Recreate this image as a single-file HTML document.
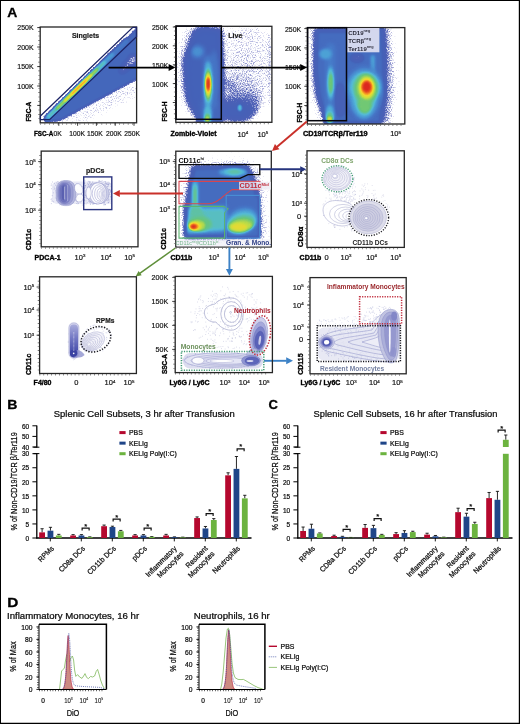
<!DOCTYPE html>
<html lang="en"><head><meta charset="utf-8"><title>Figure</title>
<style>
html,body{margin:0;padding:0;background:#fff;}
body{width:520px;height:724px;overflow:hidden;font-family:"Liberation Sans",sans-serif;}
svg{display:block;font-family:"Liberation Sans",sans-serif;}
</style></head><body>
<svg width="520" height="724" viewBox="0 0 520 724">
<defs>
<filter id="jet" x="0" y="0" width="1" height="1" color-interpolation-filters="sRGB">
<feGaussianBlur in="SourceGraphic" stdDeviation="0.5" result="h"/>
<feTurbulence type="fractalNoise" baseFrequency="0.8" numOctaves="4" seed="7" result="t"/>
<feColorMatrix in="t" type="matrix" values="2.2 0 0 0 -0.6  2.2 0 0 0 -0.6  2.2 0 0 0 -0.6  0 0 0 0 1" result="n"/>
<feComposite in="h" in2="n" operator="arithmetic" k1="0" k2="5" k3="-0.6" k4="0" result="d"/>
<feColorMatrix in="d" type="matrix" values="0 0 0 0 1  0 0 0 0 1  0 0 0 0 1  1.7 0 0 0 0" result="m"/>
<feComponentTransfer in="h" result="c"><feFuncR type="table" tableValues="0.439 0.424 0.408 0.392 0.376 0.361 0.349 0.337 0.325 0.314 0.302 0.290 0.287 0.284 0.281 0.278 0.275 0.273 0.270 0.267 0.269 0.271 0.273 0.275 0.280 0.285 0.290 0.301 0.313 0.324 0.338 0.356 0.373 0.390 0.408 0.483 0.558 0.634 0.709 0.784 0.838 0.892 0.946 0.969 0.962 0.956 0.949 0.927 0.906 0.884 0.863"/><feFuncG type="table" tableValues="0.424 0.419 0.414 0.409 0.405 0.400 0.396 0.392 0.388 0.384 0.380 0.376 0.377 0.378 0.379 0.380 0.381 0.382 0.383 0.384 0.406 0.427 0.449 0.471 0.510 0.549 0.588 0.631 0.673 0.716 0.742 0.750 0.759 0.768 0.776 0.795 0.814 0.833 0.852 0.871 0.864 0.857 0.850 0.800 0.706 0.612 0.518 0.427 0.337 0.247 0.157"/><feFuncB type="table" tableValues="0.745 0.742 0.739 0.736 0.733 0.729 0.727 0.724 0.722 0.719 0.716 0.714 0.715 0.716 0.717 0.718 0.719 0.720 0.721 0.722 0.737 0.753 0.769 0.784 0.800 0.816 0.831 0.836 0.840 0.845 0.806 0.724 0.642 0.560 0.478 0.433 0.387 0.342 0.296 0.251 0.229 0.206 0.184 0.167 0.156 0.145 0.133 0.131 0.129 0.127 0.125"/></feComponentTransfer>
<feComposite in="c" in2="m" operator="in" result="o"/>
<feGaussianBlur in="o" stdDeviation="0.55"/>
</filter>
<filter id="jet2" x="0" y="0" width="1" height="1" color-interpolation-filters="sRGB">
<feGaussianBlur in="SourceGraphic" stdDeviation="0.5" result="h"/>
<feTurbulence type="fractalNoise" baseFrequency="0.8" numOctaves="4" seed="11" result="t"/>
<feColorMatrix in="t" type="matrix" values="2.2 0 0 0 -0.6  2.2 0 0 0 -0.6  2.2 0 0 0 -0.6  0 0 0 0 1" result="n"/>
<feComposite in="h" in2="n" operator="arithmetic" k1="0" k2="5" k3="-0.6" k4="0" result="d"/>
<feColorMatrix in="d" type="matrix" values="0 0 0 0 1  0 0 0 0 1  0 0 0 0 1  1.7 0 0 0 0" result="m"/>
<feComponentTransfer in="h" result="c"><feFuncR type="table" tableValues="0.439 0.424 0.408 0.392 0.376 0.361 0.349 0.337 0.325 0.314 0.302 0.290 0.287 0.284 0.281 0.278 0.275 0.273 0.270 0.267 0.269 0.271 0.273 0.275 0.280 0.285 0.290 0.301 0.313 0.324 0.338 0.356 0.373 0.390 0.408 0.483 0.558 0.634 0.709 0.784 0.838 0.892 0.946 0.969 0.962 0.956 0.949 0.927 0.906 0.884 0.863"/><feFuncG type="table" tableValues="0.424 0.419 0.414 0.409 0.405 0.400 0.396 0.392 0.388 0.384 0.380 0.376 0.377 0.378 0.379 0.380 0.381 0.382 0.383 0.384 0.406 0.427 0.449 0.471 0.510 0.549 0.588 0.631 0.673 0.716 0.742 0.750 0.759 0.768 0.776 0.795 0.814 0.833 0.852 0.871 0.864 0.857 0.850 0.800 0.706 0.612 0.518 0.427 0.337 0.247 0.157"/><feFuncB type="table" tableValues="0.745 0.742 0.739 0.736 0.733 0.729 0.727 0.724 0.722 0.719 0.716 0.714 0.715 0.716 0.717 0.718 0.719 0.720 0.721 0.722 0.737 0.753 0.769 0.784 0.800 0.816 0.831 0.836 0.840 0.845 0.806 0.724 0.642 0.560 0.478 0.433 0.387 0.342 0.296 0.251 0.229 0.206 0.184 0.167 0.156 0.145 0.133 0.131 0.129 0.127 0.125"/></feComponentTransfer>
<feComposite in="c" in2="m" operator="in" result="o"/>
<feGaussianBlur in="o" stdDeviation="0.55"/>
</filter>
<filter id="soft" x="-0.1" y="-0.1" width="1.2" height="1.2" color-interpolation-filters="sRGB"><feGaussianBlur stdDeviation="0.35"/></filter>
<filter id="soft2" x="-0.1" y="-0.1" width="1.2" height="1.2" color-interpolation-filters="sRGB"><feGaussianBlur stdDeviation="0.8"/></filter>
<filter id="b1" x="0" y="0" width="520" height="724" filterUnits="userSpaceOnUse" color-interpolation-filters="sRGB"><feGaussianBlur stdDeviation="1"/></filter>
<filter id="b1_5" x="0" y="0" width="520" height="724" filterUnits="userSpaceOnUse" color-interpolation-filters="sRGB"><feGaussianBlur stdDeviation="1.5"/></filter>
<filter id="b2" x="0" y="0" width="520" height="724" filterUnits="userSpaceOnUse" color-interpolation-filters="sRGB"><feGaussianBlur stdDeviation="2"/></filter>
<filter id="b3" x="0" y="0" width="520" height="724" filterUnits="userSpaceOnUse" color-interpolation-filters="sRGB"><feGaussianBlur stdDeviation="3"/></filter>
<filter id="b4" x="0" y="0" width="520" height="724" filterUnits="userSpaceOnUse" color-interpolation-filters="sRGB"><feGaussianBlur stdDeviation="4"/></filter>
<filter id="b6" x="0" y="0" width="520" height="724" filterUnits="userSpaceOnUse" color-interpolation-filters="sRGB"><feGaussianBlur stdDeviation="6"/></filter>
</defs>
<rect x="0" y="0" width="520" height="724" fill="#fff"/>
<text transform="translate(7.20 16.90) scale(1.04 1)" font-size="13.4" font-weight="bold" text-anchor="start" fill="#000" stroke="#000" stroke-width="0.3">A</text>
<clipPath id="c1"><rect x="40.20" y="27.00" width="96.40" height="95.80"/></clipPath>
<g clip-path="url(#c1)"><g filter="url(#jet)">
<rect x="34.20" y="21.00" width="108.40" height="107.80" fill="#000"/>
<polygon points="56.00,123.00 137.00,80.00 137.00,96.00 84.00,123.00" fill="#0d0d0d" opacity="1" filter="url(#b2)"/>
<polygon points="45.00,117.64 139.00,25.99 139.00,78.00 60.00,120.50 45.00,122.50" fill="#666666" opacity="1" filter="url(#b1)"/>
<ellipse cx="128.00" cy="64.50" rx="11.00" ry="3.40" fill="#2b2b2b" opacity="1" transform="rotate(-47 128.00 64.50)" filter="url(#b1_5)"/>
<ellipse cx="133.00" cy="60.00" rx="4.00" ry="5.00" fill="#212121" opacity="1" filter="url(#b1_5)"/>
<g filter="url(#b1)"><line x1="47.30" y1="118.00" x2="126.00" y2="41.27" stroke="#757575" stroke-width="5.4" stroke-linecap="round" opacity="1"/></g>
<g filter="url(#b1)"><line x1="47.30" y1="118.00" x2="112.00" y2="54.92" stroke="#878787" stroke-width="4.4" stroke-linecap="round" opacity="1"/></g>
<g filter="url(#b1)"><line x1="49.00" y1="116.34" x2="104.00" y2="62.72" stroke="#a1a1a1" stroke-width="3.4" stroke-linecap="round" opacity="1"/></g>
<g filter="url(#b1)"><line x1="57.00" y1="108.54" x2="97.00" y2="69.54" stroke="#c2c2c2" stroke-width="2.7" stroke-linecap="round" opacity="1"/></g>
<g filter="url(#b1)"><line x1="65.00" y1="100.74" x2="91.00" y2="75.39" stroke="#dbdbdb" stroke-width="2.2" stroke-linecap="round" opacity="1"/></g>
<g filter="url(#b1)"><line x1="72.00" y1="93.92" x2="86.00" y2="80.27" stroke="#f0f0f0" stroke-width="1.7" stroke-linecap="round" opacity="1"/></g>
</g></g>
<rect x="40.20" y="27.00" width="96.40" height="95.80" fill="none" stroke="#262626" stroke-width="1.3"/>
<polygon points="40.4,116.0 132.8,27.3 136.5,27.3 136.5,36.6 49.6,119.6 40.4,119.6" fill="none" stroke="#1c2466" stroke-width="1.3" stroke-linejoin="miter"/>
<line x1="39.05" y1="27.00" x2="39.05" y2="122.80" stroke="#444" stroke-width="1.5" stroke-dasharray="0.6 3.755"/>
<line x1="40.20" y1="123.95" x2="136.60" y2="123.95" stroke="#444" stroke-width="1.5" stroke-dasharray="0.6 3.782"/>
<line x1="37.20" y1="27.60" x2="40.20" y2="27.60" stroke="#111" stroke-width="0.8"/>
<line x1="37.20" y1="47.00" x2="40.20" y2="47.00" stroke="#111" stroke-width="0.8"/>
<line x1="37.20" y1="66.60" x2="40.20" y2="66.60" stroke="#111" stroke-width="0.8"/>
<line x1="37.20" y1="86.00" x2="40.20" y2="86.00" stroke="#111" stroke-width="0.8"/>
<line x1="37.20" y1="105.40" x2="40.20" y2="105.40" stroke="#111" stroke-width="0.8"/>
<line x1="58.80" y1="122.80" x2="58.80" y2="125.80" stroke="#111" stroke-width="0.8"/>
<line x1="77.60" y1="122.80" x2="77.60" y2="125.80" stroke="#111" stroke-width="0.8"/>
<line x1="96.40" y1="122.80" x2="96.40" y2="125.80" stroke="#111" stroke-width="0.8"/>
<line x1="115.20" y1="122.80" x2="115.20" y2="125.80" stroke="#111" stroke-width="0.8"/>
<line x1="134.00" y1="122.80" x2="134.00" y2="125.80" stroke="#111" stroke-width="0.8"/>
<text transform="translate(85.50 38.20)" font-size="7" font-weight="bold" text-anchor="middle" fill="#1c1c1c" stroke="#1c1c1c" stroke-width="0.2">Singlets</text>
<text transform="translate(33.60 30.30) scale(0.93 1)" font-size="7.5" font-weight="normal" text-anchor="end" fill="#161616"  stroke="#161616" stroke-width="0.2">250K</text>
<text transform="translate(33.60 49.70) scale(0.93 1)" font-size="7.5" font-weight="normal" text-anchor="end" fill="#161616"  stroke="#161616" stroke-width="0.2">200K</text>
<text transform="translate(33.60 69.30) scale(0.93 1)" font-size="7.5" font-weight="normal" text-anchor="end" fill="#161616"  stroke="#161616" stroke-width="0.2">150K</text>
<text transform="translate(33.60 88.70) scale(0.93 1)" font-size="7.5" font-weight="normal" text-anchor="end" fill="#161616"  stroke="#161616" stroke-width="0.2">100K</text>
<text transform="translate(31.10 121.60) rotate(-90) scale(0.93 1)" font-size="7" font-weight="bold" text-anchor="start" fill="#000"  stroke="#000" stroke-width="0.34">FSC-A</text>
<text transform="translate(34.00 135.80) scale(0.9 1)" font-size="7" font-weight="bold" text-anchor="start" fill="#000"  stroke="#000" stroke-width="0.34">FSC-A</text>
<text transform="translate(53.40 135.80) scale(0.9 1)" font-size="7.5" font-weight="normal" text-anchor="start" fill="#161616"  stroke="#161616" stroke-width="0.2">0K</text>
<text transform="translate(69.30 135.80) scale(0.9 1)" font-size="7.5" font-weight="normal" text-anchor="start" fill="#161616"  stroke="#161616" stroke-width="0.2">100K</text>
<text transform="translate(86.90 135.80) scale(0.9 1)" font-size="7.5" font-weight="normal" text-anchor="start" fill="#161616"  stroke="#161616" stroke-width="0.2">150K</text>
<text transform="translate(106.00 135.80) scale(0.9 1)" font-size="7.5" font-weight="normal" text-anchor="start" fill="#161616"  stroke="#161616" stroke-width="0.2">200K</text>
<text transform="translate(124.30 135.80) scale(0.9 1)" font-size="7.5" font-weight="normal" text-anchor="start" fill="#161616"  stroke="#161616" stroke-width="0.2">250K</text>
<clipPath id="c2"><rect x="175.80" y="26.30" width="96.10" height="96.00"/></clipPath>
<g clip-path="url(#c2)"><g filter="url(#jet)">
<rect x="169.80" y="20.30" width="108.10" height="108.00" fill="#000"/>
<ellipse cx="247.00" cy="66.00" rx="26.00" ry="44.00" fill="#0f0f0f" opacity="1" filter="url(#b4)"/>
<ellipse cx="244.00" cy="80.00" rx="20.00" ry="30.00" fill="#131313" opacity="1" filter="url(#b4)"/>
<ellipse cx="240.00" cy="96.00" rx="20.00" ry="23.00" fill="#1a1a1a" opacity="1" transform="rotate(-35 240.00 96.00)" filter="url(#b3)"/>
<ellipse cx="240.00" cy="106.00" rx="20.00" ry="14.00" fill="#2b2b2b" opacity="1" transform="rotate(-15 240.00 106.00)" filter="url(#b3)"/>
<ellipse cx="237.00" cy="110.00" rx="18.00" ry="10.00" fill="#3d3d3d" opacity="1" filter="url(#b3)"/>
<ellipse cx="236.00" cy="112.00" rx="13.00" ry="7.00" fill="#525252" opacity="1" filter="url(#b3)"/>
<ellipse cx="231.00" cy="86.00" rx="3.00" ry="9.00" fill="#292929" opacity="1" transform="rotate(-40 231.00 86.00)" filter="url(#b2)"/>
<ellipse cx="239.80" cy="107.80" rx="2.60" ry="3.80" fill="#999999" opacity="1" filter="url(#b1)"/>
<g filter="url(#b1)"><line x1="269.40" y1="34.00" x2="269.40" y2="104.00" stroke="#2e2e2e" stroke-width="1.2" stroke-linecap="round" opacity="1"/></g>
<ellipse cx="199.00" cy="70.00" rx="19.00" ry="46.00" fill="#212121" opacity="1" filter="url(#b4)"/>
<ellipse cx="205.00" cy="72.00" rx="15.00" ry="42.00" fill="#666666" opacity="1" filter="url(#b3)"/>
<polygon points="196.00,30.00 222.00,28.00 222.00,123.00 200.00,123.00 188.00,100.00 185.00,60.00" fill="#616161" opacity="1" filter="url(#b3)"/>
<polygon points="200.00,100.00 222.00,100.00 222.00,123.00 198.00,123.00" fill="#666666" opacity="1" filter="url(#b2)"/>
<ellipse cx="197.60" cy="51.60" rx="6.80" ry="6.40" fill="#828282" opacity="1" filter="url(#b2)"/>
<ellipse cx="214.00" cy="80.00" rx="5.00" ry="30.00" fill="#737373" opacity="1" filter="url(#b2)"/>
<g filter="url(#b2)"><line x1="208.00" y1="60.00" x2="208.00" y2="121.00" stroke="#787878" stroke-width="9" stroke-linecap="round" opacity="1"/></g>
<g filter="url(#b1_5)"><line x1="208.00" y1="64.00" x2="208.00" y2="121.00" stroke="#8a8a8a" stroke-width="5" stroke-linecap="round" opacity="1"/></g>
<ellipse cx="208.20" cy="85.00" rx="4.60" ry="22.00" fill="#919191" opacity="1" filter="url(#b1_5)"/>
<ellipse cx="208.20" cy="85.00" rx="3.60" ry="17.00" fill="#a8a8a8" opacity="1" filter="url(#b1)"/>
<ellipse cx="208.20" cy="85.00" rx="2.90" ry="13.50" fill="#c2c2c2" opacity="1" filter="url(#b1)"/>
<ellipse cx="208.20" cy="84.60" rx="2.30" ry="10.50" fill="#dbdbdb" opacity="1" filter="url(#b1)"/>
<ellipse cx="208.20" cy="84.20" rx="1.80" ry="7.60" fill="#f2f2f2" opacity="1" filter="url(#b1)"/>
<ellipse cx="208.20" cy="84.00" rx="1.40" ry="5.40" fill="#ffffff" opacity="1" filter="url(#b1)"/>
<ellipse cx="207.60" cy="114.00" rx="3.80" ry="8.00" fill="#969696" opacity="1" filter="url(#b1_5)"/>
<ellipse cx="207.40" cy="118.00" rx="2.90" ry="4.20" fill="#b0b0b0" opacity="1" filter="url(#b1)"/>
<ellipse cx="207.20" cy="119.60" rx="2.00" ry="2.40" fill="#cccccc" opacity="1" filter="url(#b1)"/>
</g></g>
<rect x="175.80" y="26.30" width="96.10" height="96.00" fill="none" stroke="#262626" stroke-width="1.3"/>
<rect x="176.1" y="26.0" width="45.2" height="93.3" fill="none" stroke="#05050c" stroke-width="1.5"/>
<line x1="174.65" y1="26.30" x2="174.65" y2="122.30" stroke="#444" stroke-width="1.5" stroke-dasharray="0.6 3.764"/>
<line x1="175.80" y1="123.45" x2="271.90" y2="123.45" stroke="#444" stroke-width="1.5" stroke-dasharray="0.6 3.404"/>
<line x1="172.80" y1="27.00" x2="175.80" y2="27.00" stroke="#111" stroke-width="0.8"/>
<line x1="172.80" y1="45.80" x2="175.80" y2="45.80" stroke="#111" stroke-width="0.8"/>
<line x1="172.80" y1="64.80" x2="175.80" y2="64.80" stroke="#111" stroke-width="0.8"/>
<line x1="172.80" y1="83.60" x2="175.80" y2="83.60" stroke="#111" stroke-width="0.8"/>
<line x1="172.80" y1="102.50" x2="175.80" y2="102.50" stroke="#111" stroke-width="0.8"/>
<text transform="translate(228.20 38.20)" font-size="7.1" font-weight="bold" text-anchor="start" fill="#1c1c1c" stroke="#1c1c1c" stroke-width="0.2">Live</text>
<text transform="translate(168.20 30.20) scale(0.93 1)" font-size="7.5" font-weight="normal" text-anchor="end" fill="#161616"  stroke="#161616" stroke-width="0.2">250K</text>
<text transform="translate(168.20 49.00) scale(0.93 1)" font-size="7.5" font-weight="normal" text-anchor="end" fill="#161616"  stroke="#161616" stroke-width="0.2">200K</text>
<text transform="translate(168.20 68.00) scale(0.93 1)" font-size="7.5" font-weight="normal" text-anchor="end" fill="#161616"  stroke="#161616" stroke-width="0.2">150K</text>
<text transform="translate(168.20 86.80) scale(0.93 1)" font-size="7.5" font-weight="normal" text-anchor="end" fill="#161616"  stroke="#161616" stroke-width="0.2">100K</text>
<text transform="translate(167.00 121.40) rotate(-90) scale(0.93 1)" font-size="7" font-weight="bold" text-anchor="start" fill="#000"  stroke="#000" stroke-width="0.34">FSC-H</text>
<text transform="translate(170.40 136.00)" font-size="7" font-weight="bold" text-anchor="start" fill="#000"  stroke="#000" stroke-width="0.34">Zombie-Violet</text>
<text transform="translate(237.40 136.60)" font-size="7.5" font-weight="normal" text-anchor="start" fill="#161616"  stroke="#161616" stroke-width="0.2">10<tspan font-size="4.4" dy="-2.6">4</tspan></text>
<text transform="translate(257.40 136.60)" font-size="7.5" font-weight="normal" text-anchor="start" fill="#161616"  stroke="#161616" stroke-width="0.2">10<tspan font-size="4.4" dy="-2.6">5</tspan></text>
<clipPath id="c3"><rect x="307.30" y="27.60" width="97.50" height="96.40"/></clipPath>
<g clip-path="url(#c3)"><g filter="url(#jet)">
<rect x="301.30" y="21.60" width="109.50" height="108.40" fill="#000"/>
<ellipse cx="360.00" cy="80.00" rx="40.00" ry="52.00" fill="#060606" opacity="1" filter="url(#b4)"/>
<polygon points="311.00,26.00 346.00,26.00 390.00,26.00 392.00,58.00 393.00,84.00 390.00,124.00 322.00,124.00 312.00,90.00" fill="#242424" opacity="1" filter="url(#b3)"/>
<polygon points="316.00,30.00 346.00,30.00 383.00,28.00 385.00,62.00 385.00,96.00 381.00,124.00 327.00,124.00 318.00,96.00 315.00,70.00" fill="#6b6b6b" opacity="1" filter="url(#b2)"/>
<ellipse cx="340.00" cy="100.00" rx="6.00" ry="16.00" fill="#4c4c4c" opacity="1" filter="url(#b2)"/>
<ellipse cx="357.00" cy="58.00" rx="6.00" ry="3.40" fill="#333333" opacity="1" filter="url(#b1_5)"/>
<g filter="url(#b2)"><line x1="330.40" y1="48.00" x2="330.40" y2="121.00" stroke="#787878" stroke-width="9" stroke-linecap="round" opacity="1"/></g>
<ellipse cx="325.40" cy="54.00" rx="6.40" ry="5.60" fill="#8a8a8a" opacity="1" filter="url(#b1_5)"/>
<ellipse cx="330.60" cy="83.00" rx="3.60" ry="17.00" fill="#8f8f8f" opacity="1" filter="url(#b1_5)"/>
<ellipse cx="330.60" cy="83.00" rx="2.80" ry="13.50" fill="#9e9e9e" opacity="1" filter="url(#b1)"/>
<ellipse cx="330.80" cy="83.00" rx="2.00" ry="9.50" fill="#b0b0b0" opacity="1" filter="url(#b1)"/>
<ellipse cx="329.80" cy="114.00" rx="4.20" ry="9.00" fill="#919191" opacity="1" filter="url(#b1_5)"/>
<ellipse cx="329.80" cy="117.00" rx="3.40" ry="5.00" fill="#a8a8a8" opacity="1" filter="url(#b1)"/>
<ellipse cx="329.60" cy="119.20" rx="2.60" ry="2.80" fill="#cccccc" opacity="1" filter="url(#b1)"/>
<g filter="url(#b1_5)"><line x1="372.80" y1="57.00" x2="372.80" y2="78.00" stroke="#8c8c8c" stroke-width="4.6" stroke-linecap="round" opacity="1"/></g>
<ellipse cx="364.50" cy="91.00" rx="19.00" ry="25.00" fill="#787878" opacity="1" filter="url(#b2)"/>
<ellipse cx="364.50" cy="87.00" rx="16.50" ry="17.00" fill="#8f8f8f" opacity="1" filter="url(#b2)"/>
<ellipse cx="364.00" cy="100.00" rx="12.50" ry="19.00" fill="#8f8f8f" opacity="1" filter="url(#b2)"/>
<ellipse cx="365.50" cy="87.50" rx="14.00" ry="14.50" fill="#9e9e9e" opacity="1" filter="url(#b1_5)"/>
<ellipse cx="365.00" cy="97.00" rx="10.50" ry="14.00" fill="#9e9e9e" opacity="1" filter="url(#b1_5)"/>
<ellipse cx="366.00" cy="88.50" rx="11.40" ry="15.00" fill="#b2b2b2" opacity="1" filter="url(#b1_5)"/>
<ellipse cx="364.60" cy="105.00" rx="7.00" ry="9.00" fill="#b0b0b0" opacity="1" filter="url(#b1_5)"/>
<ellipse cx="366.60" cy="88.00" rx="8.40" ry="11.40" fill="#c9c9c9" opacity="1" filter="url(#b1)"/>
<ellipse cx="366.80" cy="87.60" rx="6.60" ry="8.80" fill="#dedede" opacity="1" filter="url(#b1)"/>
<ellipse cx="366.80" cy="87.20" rx="5.20" ry="6.80" fill="#f2f2f2" opacity="1" filter="url(#b1)"/>
<ellipse cx="366.70" cy="86.80" rx="4.00" ry="5.00" fill="#ffffff" opacity="1" filter="url(#b1)"/>
</g></g>
<rect x="307.30" y="27.60" width="97.50" height="96.40" fill="none" stroke="#262626" stroke-width="1.3"/>
<rect x="347.2" y="28.0" width="32.2" height="24.3" fill="#dfe1f2" opacity="0.92"/>
<rect x="307.7" y="27.7" width="38.8" height="93.0" fill="none" stroke="#05050c" stroke-width="1.5"/>
<line x1="306.15" y1="27.60" x2="306.15" y2="124.00" stroke="#444" stroke-width="1.5" stroke-dasharray="0.6 3.782"/>
<line x1="307.30" y1="125.15" x2="404.80" y2="125.15" stroke="#444" stroke-width="1.5" stroke-dasharray="0.6 3.462"/>
<line x1="304.30" y1="28.60" x2="307.30" y2="28.60" stroke="#111" stroke-width="0.8"/>
<line x1="304.30" y1="47.90" x2="307.30" y2="47.90" stroke="#111" stroke-width="0.8"/>
<line x1="304.30" y1="67.10" x2="307.30" y2="67.10" stroke="#111" stroke-width="0.8"/>
<line x1="304.30" y1="86.30" x2="307.30" y2="86.30" stroke="#111" stroke-width="0.8"/>
<line x1="304.30" y1="105.50" x2="307.30" y2="105.50" stroke="#111" stroke-width="0.8"/>
<text transform="translate(348.20 34.60)" font-size="6" font-weight="bold" text-anchor="start" fill="#2b2b3a" >CD19<tspan font-size="3.8" dy="-2.2">neg</tspan></text>
<text transform="translate(348.20 42.60)" font-size="6" font-weight="bold" text-anchor="start" fill="#2b2b3a" >TCRβ<tspan font-size="3.8" dy="-2.2">neg</tspan></text>
<text transform="translate(348.20 50.60)" font-size="6" font-weight="bold" text-anchor="start" fill="#2b2b3a" >Ter119<tspan font-size="3.8" dy="-2.2">neg</tspan></text>
<text transform="translate(301.20 31.60) scale(0.93 1)" font-size="7.5" font-weight="normal" text-anchor="end" fill="#161616"  stroke="#161616" stroke-width="0.2">250K</text>
<text transform="translate(301.20 50.90) scale(0.93 1)" font-size="7.5" font-weight="normal" text-anchor="end" fill="#161616"  stroke="#161616" stroke-width="0.2">200K</text>
<text transform="translate(301.20 70.10) scale(0.93 1)" font-size="7.5" font-weight="normal" text-anchor="end" fill="#161616"  stroke="#161616" stroke-width="0.2">150K</text>
<text transform="translate(301.20 89.30) scale(0.93 1)" font-size="7.5" font-weight="normal" text-anchor="end" fill="#161616"  stroke="#161616" stroke-width="0.2">100K</text>
<text transform="translate(301.60 122.60) rotate(-90) scale(0.93 1)" font-size="7" font-weight="bold" text-anchor="start" fill="#000"  stroke="#000" stroke-width="0.34">FSC-H</text>
<text transform="translate(302.90 135.60) scale(1.045 1)" font-size="7" font-weight="bold" text-anchor="start" fill="#000"  stroke="#000" stroke-width="0.34">CD19/TCRβ/Ter119</text>
<text transform="translate(390.20 136.20)" font-size="7.5" font-weight="normal" text-anchor="start" fill="#161616"  stroke="#161616" stroke-width="0.2">10<tspan font-size="4.4" dy="-2.6">5</tspan></text>
<line x1="108.60" y1="67.60" x2="169.10" y2="67.60" stroke="#000" stroke-width="1.9"/>
<polygon points="175.40,67.60 168.60,71.10 168.60,64.10" fill="#000"/>
<line x1="221.60" y1="67.60" x2="300.70" y2="67.60" stroke="#000" stroke-width="1.9"/>
<polygon points="307.00,67.60 300.20,71.10 300.20,64.10" fill="#000"/>
<g filter="url(#soft)">
<rect x="52" y="181.5" width="60" height="22.5" rx="5" fill="#d7d8ee" opacity="0.55"/>
<path d="M65.8 193.8h.01M73.9 195.3h.01M89.8 182.1h.01M51.8 201.0h.01M67.1 186.2h.01M112.7 192.0h.01M102.9 192.2h.01M90.6 184.2h.01M90.4 201.8h.01M83.4 198.7h.01M92.6 182.1h.01M98.0 195.0h.01M69.7 181.3h.01M104.7 192.1h.01M95.6 202.0h.01M95.3 203.1h.01M75.5 200.1h.01M78.6 203.4h.01M105.5 182.9h.01M59.4 185.8h.01M110.9 191.2h.01M89.9 187.9h.01M82.4 190.0h.01M72.8 194.8h.01M87.2 202.7h.01M93.3 203.3h.01M104.1 204.8h.01M92.6 184.5h.01M104.4 204.1h.01M107.1 194.4h.01M95.3 185.7h.01M102.6 194.6h.01M68.7 182.1h.01M103.9 204.8h.01M56.5 200.1h.01M76.4 184.2h.01M69.2 199.3h.01M105.1 181.6h.01M89.1 181.6h.01M95.5 188.6h.01M105.6 204.5h.01M82.3 205.0h.01M70.2 182.4h.01M88.2 181.3h.01M63.2 190.5h.01M88.8 184.3h.01M53.6 201.8h.01M70.5 204.0h.01M106.6 189.8h.01M79.5 193.2h.01M90.9 195.1h.01M85.7 195.7h.01M109.3 192.9h.01M77.7 198.1h.01M65.7 187.9h.01M111.6 193.3h.01M85.0 180.8h.01M76.7 194.7h.01M52.2 195.6h.01M90.2 182.0h.01M89.9 191.9h.01M93.1 189.1h.01M94.8 198.6h.01M52.4 182.0h.01M92.9 204.1h.01M66.6 191.7h.01M87.7 188.3h.01M73.6 188.2h.01M73.9 195.1h.01M69.6 189.7h.01M98.9 181.2h.01M86.3 198.5h.01M70.2 186.0h.01M100.8 186.3h.01M62.6 191.2h.01M94.3 183.0h.01M71.0 188.7h.01M102.7 191.2h.01M104.0 184.6h.01M71.9 196.4h.01M105.9 191.6h.01M65.0 183.5h.01M83.8 185.2h.01M101.0 201.0h.01M62.4 187.3h.01M101.0 196.2h.01M101.0 189.0h.01M59.0 187.7h.01M100.2 187.1h.01M72.5 190.7h.01M77.0 190.5h.01M108.1 184.3h.01M51.3 203.6h.01M105.6 204.7h.01M77.9 203.8h.01M108.5 185.9h.01M97.2 201.0h.01M92.1 193.2h.01M68.9 188.9h.01M65.1 182.2h.01M87.5 187.5h.01M101.2 181.6h.01M107.0 197.5h.01M108.3 202.5h.01M106.8 194.6h.01M51.8 198.8h.01M61.7 187.8h.01M92.1 193.4h.01M76.7 203.5h.01M89.0 188.9h.01M66.7 201.6h.01M80.6 199.7h.01M72.8 185.3h.01M84.1 200.5h.01M61.6 199.9h.01M108.1 200.2h.01M102.1 180.7h.01M90.0 201.6h.01M54.1 187.1h.01M67.7 193.4h.01M77.2 192.1h.01M99.1 180.5h.01M54.4 183.6h.01M58.7 182.2h.01M111.4 201.4h.01M56.3 192.8h.01M70.6 188.2h.01M72.8 196.3h.01M87.4 189.3h.01M62.8 188.6h.01M58.7 194.1h.01M95.4 189.8h.01M56.0 184.9h.01M74.1 195.3h.01M99.5 189.8h.01M100.7 195.8h.01M77.8 189.6h.01M81.8 197.7h.01M77.1 197.5h.01M79.6 186.5h.01M84.2 197.5h.01M55.4 190.9h.01M77.4 202.1h.01M109.1 189.7h.01M106.7 199.9h.01M67.3 191.9h.01M58.6 200.4h.01M92.1 202.2h.01M100.1 196.9h.01M96.5 194.3h.01M57.4 194.9h.01M51.3 184.0h.01M99.0 181.6h.01M56.7 182.9h.01M105.6 184.9h.01M52.5 201.1h.01M58.5 201.2h.01M92.8 201.0h.01M110.0 194.7h.01M100.5 181.4h.01M98.6 193.0h.01M95.3 183.1h.01M97.4 203.4h.01M54.8 188.4h.01M86.0 200.8h.01M66.0 184.9h.01M66.5 195.6h.01M97.7 190.1h.01M73.8 190.2h.01M72.7 190.7h.01M56.2 192.8h.01M111.3 190.6h.01M97.3 184.4h.01M93.8 199.0h.01M92.8 193.2h.01M81.0 196.3h.01M106.6 184.2h.01M56.9 198.8h.01M107.8 193.2h.01M78.5 198.1h.01M62.5 187.1h.01M63.3 194.8h.01M70.5 186.2h.01M93.9 203.9h.01M69.3 197.8h.01M76.6 201.4h.01M87.2 187.0h.01M64.5 181.1h.01M80.7 189.9h.01M61.7 189.3h.01M71.0 199.5h.01M59.9 204.8h.01M80.7 195.2h.01M80.0 200.9h.01M101.9 194.1h.01M80.8 198.2h.01M104.1 190.3h.01M96.5 204.0h.01M80.0 186.1h.01M65.6 198.1h.01M92.9 204.0h.01M103.9 186.4h.01M62.8 186.8h.01M62.6 197.8h.01M104.2 202.5h.01M66.8 201.7h.01M70.4 190.9h.01M96.2 182.6h.01M56.7 200.9h.01M69.1 189.2h.01M87.0 197.0h.01M51.4 188.7h.01M78.0 192.4h.01M64.0 194.8h.01M110.2 190.1h.01M84.8 183.4h.01M68.0 196.8h.01M58.0 202.2h.01M107.3 182.9h.01M109.4 189.7h.01M98.9 199.1h.01M69.3 197.1h.01M91.6 200.2h.01M67.5 199.0h.01M110.6 197.0h.01M84.2 183.3h.01M81.6 189.1h.01M95.5 197.1h.01M86.1 185.0h.01M91.0 196.0h.01M62.1 202.3h.01M91.6 183.5h.01M108.8 184.0h.01M71.6 198.2h.01M88.0 194.1h.01M91.1 191.7h.01M70.4 184.8h.01M55.3 198.0h.01M97.8 193.8h.01M96.9 189.3h.01M67.5 189.9h.01M105.1 181.5h.01M82.3 186.6h.01M98.7 189.2h.01M71.6 190.4h.01M84.6 199.4h.01M72.9 201.2h.01M58.0 187.1h.01M57.2 183.3h.01M99.3 198.3h.01M62.5 185.1h.01M76.8 198.7h.01M101.6 198.8h.01M87.7 184.1h.01M75.7 185.2h.01M83.7 194.4h.01M63.5 186.6h.01M99.5 181.2h.01M100.8 202.3h.01M109.9 189.9h.01M85.3 194.8h.01M90.3 204.4h.01M93.6 187.8h.01M104.3 192.4h.01M88.3 198.3h.01M51.1 199.4h.01M92.0 192.6h.01M83.5 191.8h.01M63.0 193.5h.01M53.3 192.8h.01M91.0 191.4h.01M86.1 204.0h.01M106.3 183.8h.01M100.1 195.8h.01M54.1 189.3h.01M65.5 182.4h.01M84.4 203.3h.01M71.0 201.8h.01M94.1 183.8h.01M104.2 195.2h.01M108.5 198.0h.01M96.9 188.9h.01M101.0 203.3h.01M104.4 191.2h.01M97.9 192.4h.01M57.8 181.5h.01M55.8 185.4h.01M61.0 192.7h.01M94.4 193.7h.01M77.2 196.4h.01M69.9 191.9h.01M97.9 190.3h.01M62.2 202.5h.01M95.6 189.5h.01M74.0 193.5h.01M88.0 186.0h.01M51.2 185.6h.01M99.6 184.0h.01M79.5 185.3h.01M64.0 184.7h.01" stroke="#8a8ec6" stroke-width="0.8" stroke-linecap="round" fill="none" opacity="0.6"/>
<path d="M90.4 184.3h.01M94.7 185.4h.01M85.8 190.8h.01M108.8 199.6h.01M104.7 186.9h.01M98.5 188.1h.01M88.7 184.3h.01M89.8 202.4h.01M106.4 199.7h.01M105.6 186.3h.01M92.4 195.8h.01M103.8 200.8h.01M107.8 183.9h.01M100.4 196.8h.01M97.7 185.9h.01M96.8 184.0h.01M109.2 201.0h.01M98.8 188.6h.01M108.5 194.6h.01M107.8 200.7h.01M97.7 191.1h.01M100.2 191.5h.01M88.4 188.7h.01M105.9 183.0h.01M85.3 195.8h.01M91.6 193.8h.01M96.7 189.5h.01M110.9 186.3h.01M95.1 186.5h.01M101.1 188.1h.01M93.6 198.4h.01M92.7 194.3h.01M108.4 184.2h.01M85.7 187.0h.01M104.7 195.5h.01M90.4 189.3h.01M88.8 192.1h.01M85.2 197.3h.01M108.2 203.0h.01M103.8 203.1h.01M84.5 188.4h.01M110.1 199.1h.01M95.1 202.8h.01M100.8 200.0h.01M91.9 186.2h.01M96.0 185.0h.01M94.3 203.2h.01M92.9 182.2h.01M85.2 185.7h.01M105.2 190.0h.01M91.8 184.1h.01M110.5 191.3h.01M89.6 183.3h.01M85.5 185.7h.01M102.3 185.3h.01M85.1 192.8h.01M90.7 203.9h.01M87.3 193.6h.01M104.9 191.0h.01M110.7 192.5h.01M90.5 191.0h.01M85.0 191.3h.01M90.7 201.6h.01M106.4 193.0h.01M84.9 187.6h.01M90.5 186.6h.01M90.2 201.1h.01M87.8 183.1h.01M109.1 194.4h.01M110.7 190.9h.01M108.3 196.4h.01M105.4 198.4h.01M97.3 184.0h.01M89.7 201.2h.01M108.3 202.3h.01M93.1 196.5h.01M105.6 196.1h.01M106.0 193.6h.01M101.7 197.1h.01M91.2 202.3h.01M109.8 183.6h.01M110.2 203.2h.01M102.0 183.0h.01M108.3 184.8h.01M110.2 196.7h.01M85.6 185.7h.01M101.2 194.5h.01M104.2 202.4h.01M89.9 182.1h.01M108.9 182.3h.01M107.7 184.5h.01M105.9 199.2h.01M107.7 194.1h.01M107.7 186.4h.01M102.1 189.3h.01M108.1 199.0h.01M96.7 193.6h.01M84.7 182.8h.01M100.1 192.8h.01M107.3 195.4h.01M87.7 190.0h.01M104.7 193.5h.01M84.3 200.4h.01M106.3 183.9h.01M98.7 190.4h.01M105.3 188.8h.01M90.3 192.7h.01M110.1 184.1h.01M87.1 195.7h.01M107.9 193.3h.01M95.7 200.9h.01M105.0 183.5h.01M107.8 186.3h.01M92.2 200.4h.01M95.4 199.6h.01M88.5 201.2h.01M88.8 185.3h.01M97.3 189.4h.01M98.6 201.9h.01M103.2 182.1h.01" stroke="#7a7fc0" stroke-width="0.8" stroke-linecap="round" fill="none" opacity="0.55"/>
<rect x="56.2" y="180.6" width="19.4" height="25.0" rx="8" ry="9" fill="#b4b7de" stroke="#8a8ec6" stroke-width="0.5"/>
<rect x="57.6" y="181.8" width="15.6" height="22.6" rx="6.5" ry="8" fill="#9a9ed2" stroke="#8387c6" stroke-width="0.4"/>
<rect x="58.8" y="183.0" width="11.6" height="20.4" rx="5" ry="7" fill="#8084c6" stroke="#7074ba" stroke-width="0.4"/>
<rect x="60.2" y="184.4" width="7.6" height="17.6" rx="3.4" ry="6" fill="#6e73bc" stroke="#6267b2" stroke-width="0.4"/>
<rect x="61.8" y="185.6" width="3.6" height="14.6" rx="1.6" ry="5" fill="#5a60b0"/>
<line x1="64.7" y1="186.5" x2="64.7" y2="199.5" stroke="#e6e7f5" stroke-width="0.6"/>
<line x1="67.6" y1="185" x2="67.6" y2="201" stroke="#c8cae8" stroke-width="0.5"/>
<ellipse cx="78.60" cy="189.00" rx="4.00" ry="5.60" fill="#fff" fill-opacity="0.9" stroke="#8a8ec6" stroke-width="0.45" opacity="1" transform="rotate(-20 78.60 189.00)"/>
<ellipse cx="79.60" cy="198.00" rx="3.60" ry="4.20" fill="#fff" fill-opacity="0.9" stroke="#8a8ec6" stroke-width="0.45" opacity="1" transform="rotate(20 79.60 198.00)"/>
<ellipse cx="97.60" cy="193.40" rx="11.60" ry="10.60" fill="#c9cbe6" fill-opacity="0.9" stroke="#8a8ec6" stroke-width="0.4" opacity="1"/>
<ellipse cx="98.00" cy="193.40" rx="8.40" ry="10.60" fill="#fff" fill-opacity="0.95" stroke="#8a8ec6" stroke-width="0.45" opacity="1"/>
<ellipse cx="98.60" cy="193.60" rx="6.40" ry="8.80" fill="#fff" fill-opacity="1" stroke="#8a8ec6" stroke-width="0.45" opacity="1"/>
<ellipse cx="99.20" cy="193.80" rx="4.60" ry="7.20" fill="#fff" fill-opacity="1" stroke="#8a8ec6" stroke-width="0.45" opacity="1"/>
<ellipse cx="99.80" cy="194.00" rx="2.80" ry="5.40" fill="#fff" fill-opacity="1" stroke="#8a8ec6" stroke-width="0.45" opacity="1"/>
<ellipse cx="100.20" cy="194.20" rx="1.20" ry="3.40" fill="#fff" fill-opacity="1" stroke="#8a8ec6" stroke-width="0.4" opacity="1"/>
<ellipse cx="88.60" cy="193.00" rx="2.60" ry="6.00" fill="#fff" fill-opacity="0.9" stroke="#8a8ec6" stroke-width="0.4" opacity="1"/>
</g>
<rect x="41.20" y="151.10" width="96.80" height="95.70" fill="none" stroke="#262626" stroke-width="1.3"/>
<rect x="83.7" y="176.9" width="28.1" height="32.7" fill="none" stroke="#2b3580" stroke-width="1.4"/>
<line x1="40.05" y1="155.10" x2="40.05" y2="246.80" stroke="#444" stroke-width="1.5" stroke-dasharray="0.6 3.221"/>
<line x1="41.20" y1="247.95" x2="135.00" y2="247.95" stroke="#444" stroke-width="1.5" stroke-dasharray="0.6 3.308"/>
<text transform="translate(95.20 172.90)" font-size="7" font-weight="bold" text-anchor="middle" fill="#1c1c1c" stroke="#1c1c1c" stroke-width="0.2">pDCs</text>
<text transform="translate(25.00 164.50)" font-size="7.5" font-weight="normal" text-anchor="start" fill="#161616"  stroke="#161616" stroke-width="0.2">10<tspan font-size="4.4" dy="-2.6">5</tspan></text>
<line x1="38.20" y1="161.60" x2="41.20" y2="161.60" stroke="#111" stroke-width="0.8"/>
<text transform="translate(25.00 187.50)" font-size="7.5" font-weight="normal" text-anchor="start" fill="#161616"  stroke="#161616" stroke-width="0.2">10<tspan font-size="4.4" dy="-2.6">4</tspan></text>
<line x1="38.20" y1="184.60" x2="41.20" y2="184.60" stroke="#111" stroke-width="0.8"/>
<text transform="translate(25.00 213.10)" font-size="7.5" font-weight="normal" text-anchor="start" fill="#161616"  stroke="#161616" stroke-width="0.2">10<tspan font-size="4.4" dy="-2.6">3</tspan></text>
<line x1="38.20" y1="210.20" x2="41.20" y2="210.20" stroke="#111" stroke-width="0.8"/>
<text transform="translate(31.00 250.20) rotate(-90)" font-size="7" font-weight="bold" text-anchor="start" fill="#000"  stroke="#000" stroke-width="0.34">CD11c</text>
<text transform="translate(34.60 260.20)" font-size="7" font-weight="bold" text-anchor="start" fill="#000"  stroke="#000" stroke-width="0.34">PDCA-1</text>
<text transform="translate(74.60 259.80)" font-size="7.5" font-weight="normal" text-anchor="start" fill="#161616"  stroke="#161616" stroke-width="0.2">10<tspan font-size="4.4" dy="-2.6">3</tspan></text>
<text transform="translate(100.60 259.80)" font-size="7.5" font-weight="normal" text-anchor="start" fill="#161616"  stroke="#161616" stroke-width="0.2">10<tspan font-size="4.4" dy="-2.6">4</tspan></text>
<text transform="translate(124.20 259.80)" font-size="7.5" font-weight="normal" text-anchor="start" fill="#161616"  stroke="#161616" stroke-width="0.2">10<tspan font-size="4.4" dy="-2.6">5</tspan></text>
<clipPath id="c5"><rect x="175.80" y="151.20" width="95.50" height="95.80"/></clipPath>
<g clip-path="url(#c5)"><g filter="url(#jet2)">
<rect x="169.80" y="145.20" width="107.50" height="107.80" fill="#000"/>
<ellipse cx="224.00" cy="200.00" rx="46.00" ry="46.00" fill="#050505" opacity="1" filter="url(#b4)"/>
<polygon points="188.00,164.00 252.00,162.00 262.00,180.00 266.00,240.00 182.00,243.00 181.00,205.00 185.00,182.00" fill="#1a1a1a" opacity="1" filter="url(#b3)"/>
<polygon points="193.00,167.00 247.00,166.00 253.00,178.00 257.00,190.00 259.00,236.00 186.00,238.00 186.00,210.00 190.00,184.00" fill="#6b6b6b" opacity="1" filter="url(#b2)"/>
<polygon points="226.00,196.00 259.00,196.00 259.00,237.00 226.00,237.00" fill="#6b6b6b" opacity="1" filter="url(#b1_5)"/>
<g filter="url(#b1)"><line x1="225.60" y1="226.00" x2="225.60" y2="240.00" stroke="#383838" stroke-width="1.6" stroke-linecap="round" opacity="1"/></g>
<ellipse cx="233.00" cy="172.20" rx="14.50" ry="4.40" fill="#8a8a8a" opacity="1" filter="url(#b1_5)"/>
<ellipse cx="234.00" cy="172.00" rx="10.00" ry="3.20" fill="#999999" opacity="1" filter="url(#b1)"/>
<ellipse cx="234.50" cy="171.80" rx="6.00" ry="2.00" fill="#a3a3a3" opacity="1" filter="url(#b1)"/>
<g filter="url(#b1_5)"><line x1="195.00" y1="184.00" x2="195.00" y2="214.00" stroke="#8f8f8f" stroke-width="6.4" stroke-linecap="round" opacity="1"/></g>
<g filter="url(#b1)"><line x1="195.00" y1="187.00" x2="195.00" y2="212.00" stroke="#9e9e9e" stroke-width="4.4" stroke-linecap="round" opacity="1"/></g>
<g filter="url(#b1)"><line x1="195.00" y1="190.00" x2="195.00" y2="206.00" stroke="#ababab" stroke-width="2.6" stroke-linecap="round" opacity="1"/></g>
<polygon points="188.00,206.00 227.00,206.00 227.00,232.00 186.00,234.00" fill="#8c8c8c" opacity="1" filter="url(#b2)"/>
<polygon points="190.00,210.00 224.00,209.00 224.00,229.00 188.00,232.00" fill="#9c9c9c" opacity="1" filter="url(#b1_5)"/>
<polygon points="191.00,206.00 200.00,206.00 208.00,222.00 189.00,227.00" fill="#a3a3a3" opacity="1" filter="url(#b1_5)"/>
<ellipse cx="200.00" cy="224.00" rx="12.00" ry="7.40" fill="#ababab" opacity="1" filter="url(#b1_5)"/>
<ellipse cx="196.80" cy="225.40" rx="8.40" ry="5.40" fill="#c2c2c2" opacity="1" filter="url(#b1)"/>
<ellipse cx="195.00" cy="226.20" rx="5.60" ry="3.80" fill="#dbdbdb" opacity="1" filter="url(#b1)"/>
<ellipse cx="194.00" cy="226.50" rx="3.80" ry="2.70" fill="#f0f0f0" opacity="1" filter="url(#b1)"/>
<ellipse cx="193.50" cy="226.60" rx="2.60" ry="1.90" fill="#ffffff" opacity="1" filter="url(#b1)"/>
<ellipse cx="242.00" cy="221.00" rx="16.00" ry="12.00" fill="#8c8c8c" opacity="1" transform="rotate(-25 242.00 221.00)" filter="url(#b2)"/>
<ellipse cx="241.50" cy="223.40" rx="14.50" ry="9.40" fill="#a1a1a1" opacity="1" transform="rotate(-18 241.50 223.40)" filter="url(#b1_5)"/>
<ellipse cx="241.00" cy="225.00" rx="13.00" ry="7.20" fill="#b2b2b2" opacity="1" transform="rotate(-12 241.00 225.00)" filter="url(#b1)"/>
<ellipse cx="240.40" cy="226.00" rx="11.50" ry="5.40" fill="#c4c4c4" opacity="1" transform="rotate(-6 240.40 226.00)" filter="url(#b1)"/>
<ellipse cx="239.20" cy="226.80" rx="8.00" ry="3.40" fill="#d1d1d1" opacity="1" filter="url(#b1)"/>
</g></g>
<rect x="175.80" y="151.20" width="95.50" height="95.80" fill="none" stroke="#262626" stroke-width="1.3"/>
<polygon points="179.0,164.6 259.8,164.6 259.8,174.7 248,174.7 240,178.4 179.0,178.4" fill="none" stroke="#0c0c0c" stroke-width="1.3"/>
<path d="M179.0,181.4 L259.8,181.4 259.8,189.6 232,189.6 C 222 196, 218 203.8, 208 203.8 L 179.0,203.8 Z" fill="none" stroke="#d6454f" stroke-width="1.1"/>
<polygon points="179.0,206.4 223.4,206.4 228.0,208.6 224.6,213.0 224.6,238.1 179.0,238.1" fill="none" stroke="#5bb56e" stroke-width="1.1"/>
<rect x="226.2" y="195.4" width="33.6" height="42.7" fill="none" stroke="#4a8fd4" stroke-width="1.1"/>
<rect x="239.0" y="181.8" width="32.0" height="7.8" fill="#eceaf2" opacity="0.8"/>
<rect x="176.6" y="239.4" width="94" height="7.0" fill="#f1f1f8" opacity="0.8"/>
<line x1="174.65" y1="155.20" x2="174.65" y2="247.00" stroke="#444" stroke-width="1.5" stroke-dasharray="0.6 3.225"/>
<line x1="175.80" y1="248.15" x2="268.30" y2="248.15" stroke="#444" stroke-width="1.5" stroke-dasharray="0.6 3.254"/>
<text transform="translate(178.40 163.00)" font-size="7.2" font-weight="bold" text-anchor="start" fill="#111" >CD11c<tspan font-size="4.2" dy="-2.6">hi</tspan></text>
<text transform="translate(239.60 188.40)" font-size="7.2" font-weight="bold" text-anchor="start" fill="#c02a3a" >CD11c<tspan font-size="4.2" dy="-2.6">Mid</tspan></text>
<text transform="translate(175.60 245.00) scale(0.93 1)" font-size="5.9" font-weight="normal" text-anchor="start" fill="#74b48a" >CD11c<tspan font-size="3.6" dy="-1.6">neg</tspan><tspan dy="1.6">/CD11b</tspan><tspan font-size="3.6" dy="-1.6">lo</tspan></text>
<text transform="translate(226.00 245.00)" font-size="6.6" font-weight="bold" text-anchor="start" fill="#2e3f86" >Gran. &amp; Mono.</text>
<text transform="translate(159.20 164.30)" font-size="7.5" font-weight="normal" text-anchor="start" fill="#161616"  stroke="#161616" stroke-width="0.2">10<tspan font-size="4.4" dy="-2.6">5</tspan></text>
<line x1="172.80" y1="161.40" x2="175.80" y2="161.40" stroke="#111" stroke-width="0.8"/>
<text transform="translate(159.20 187.10)" font-size="7.5" font-weight="normal" text-anchor="start" fill="#161616"  stroke="#161616" stroke-width="0.2">10<tspan font-size="4.4" dy="-2.6">4</tspan></text>
<line x1="172.80" y1="184.20" x2="175.80" y2="184.20" stroke="#111" stroke-width="0.8"/>
<text transform="translate(159.20 211.90)" font-size="7.5" font-weight="normal" text-anchor="start" fill="#161616"  stroke="#161616" stroke-width="0.2">10<tspan font-size="4.4" dy="-2.6">3</tspan></text>
<line x1="172.80" y1="209.00" x2="175.80" y2="209.00" stroke="#111" stroke-width="0.8"/>
<text transform="translate(166.40 249.60) rotate(-90)" font-size="7" font-weight="bold" text-anchor="start" fill="#000"  stroke="#000" stroke-width="0.34">CD11c</text>
<text transform="translate(170.40 260.20)" font-size="7" font-weight="bold" text-anchor="start" fill="#000"  stroke="#000" stroke-width="0.34">CD11b</text>
<text transform="translate(208.40 259.80)" font-size="7.5" font-weight="normal" text-anchor="start" fill="#161616"  stroke="#161616" stroke-width="0.2">10<tspan font-size="4.4" dy="-2.6">3</tspan></text>
<text transform="translate(234.60 259.80)" font-size="7.5" font-weight="normal" text-anchor="start" fill="#161616"  stroke="#161616" stroke-width="0.2">10<tspan font-size="4.4" dy="-2.6">4</tspan></text>
<text transform="translate(258.00 259.80)" font-size="7.5" font-weight="normal" text-anchor="start" fill="#161616"  stroke="#161616" stroke-width="0.2">10<tspan font-size="4.4" dy="-2.6">5</tspan></text>
<line x1="259.80" y1="169.30" x2="300.70" y2="169.30" stroke="#26357e" stroke-width="1.9"/>
<polygon points="306.40,169.30 300.20,172.40 300.20,166.20" fill="#26357e"/>
<g filter="url(#soft)">
<path d="M327.5 171.0h.01M342.6 166.0h.01M337.0 165.6h.01M349.4 181.9h.01M350.8 175.8h.01M342.6 177.1h.01M329.7 181.4h.01M325.6 176.9h.01M345.9 180.6h.01M335.0 194.1h.01M338.7 174.0h.01M339.8 174.7h.01M333.5 176.4h.01M353.9 180.2h.01M340.0 186.7h.01M353.8 178.5h.01M333.9 194.3h.01M324.4 177.0h.01M342.6 194.0h.01M331.9 166.3h.01M345.3 174.9h.01M333.5 184.7h.01M340.6 183.0h.01M333.8 191.0h.01M352.0 180.3h.01M333.0 187.1h.01M342.9 170.5h.01M333.3 189.5h.01M336.9 176.6h.01M340.5 179.6h.01M338.0 166.2h.01M353.0 181.5h.01M329.4 188.5h.01M341.7 180.2h.01M345.0 193.3h.01M342.9 192.3h.01M352.9 173.8h.01M332.3 187.4h.01M323.2 178.0h.01M349.4 188.1h.01M342.6 166.7h.01M354.1 183.3h.01M346.3 184.7h.01M325.5 170.8h.01M329.2 192.2h.01M328.9 177.7h.01M335.1 185.8h.01M343.8 182.7h.01M331.7 166.1h.01M340.0 182.8h.01M350.4 179.1h.01M331.1 184.1h.01M325.2 172.4h.01M327.4 182.7h.01M353.3 184.9h.01M349.7 182.2h.01M341.2 175.4h.01M336.1 165.5h.01M327.7 170.3h.01M346.8 186.1h.01M347.2 191.1h.01M334.8 189.7h.01M353.7 179.9h.01M349.3 178.5h.01M323.5 181.0h.01M328.9 181.1h.01M332.6 183.3h.01M325.9 190.4h.01M351.0 177.0h.01M328.1 180.0h.01M345.5 184.2h.01M341.2 166.3h.01M328.3 190.2h.01M340.2 167.7h.01M330.4 168.8h.01M328.7 189.5h.01M335.7 190.3h.01M339.7 167.6h.01M333.5 194.0h.01M330.4 170.8h.01M350.5 180.8h.01M337.9 192.3h.01M323.1 183.1h.01M328.9 169.3h.01M330.1 189.8h.01M336.8 166.4h.01M328.8 191.1h.01M347.6 170.9h.01M354.4 177.8h.01M325.7 178.8h.01M345.8 191.9h.01M348.8 176.0h.01M332.8 168.1h.01M337.1 173.8h.01M340.5 168.8h.01M332.4 171.6h.01M327.3 170.7h.01M328.6 170.4h.01M344.7 181.0h.01M325.2 184.4h.01M340.7 192.2h.01M335.6 177.8h.01M330.0 181.3h.01M343.9 181.8h.01M335.0 185.8h.01M339.1 182.7h.01M327.8 182.0h.01M328.0 172.6h.01M339.2 194.2h.01M348.8 180.0h.01M336.1 189.5h.01M349.6 189.0h.01M335.7 182.0h.01M334.0 177.0h.01M328.5 177.6h.01M323.5 172.9h.01M342.6 171.2h.01M343.3 168.9h.01M333.6 184.1h.01M327.5 173.6h.01" stroke="#8a8ec6" stroke-width="0.7" stroke-linecap="round" fill="none" opacity="0.5"/>
<path d="M364.3 185.3h.01M338.7 209.2h.01M383.7 208.1h.01M326.9 212.2h.01M335.1 224.3h.01M351.7 231.0h.01M353.2 191.4h.01M328.7 202.9h.01M364.9 226.1h.01M361.9 195.4h.01M365.3 187.7h.01M367.0 195.5h.01M381.4 220.8h.01M363.7 191.7h.01M368.6 214.4h.01M343.9 197.5h.01M380.9 202.0h.01M364.4 228.1h.01M335.0 227.3h.01M376.6 198.0h.01M338.5 190.9h.01M367.5 183.9h.01M376.1 210.8h.01M340.9 199.4h.01M347.4 203.9h.01M374.0 195.1h.01M376.6 222.2h.01M350.3 218.6h.01M343.4 209.0h.01M363.9 231.4h.01M354.8 205.2h.01M356.8 204.7h.01M339.9 229.4h.01M342.3 198.1h.01M340.8 219.3h.01M379.8 226.6h.01M376.9 213.6h.01M355.5 191.6h.01M372.7 206.5h.01M387.8 204.8h.01M340.6 186.5h.01M326.7 215.7h.01M363.0 190.1h.01M327.9 212.0h.01M347.6 212.1h.01M355.6 194.6h.01M326.0 209.8h.01M358.4 211.4h.01M374.6 222.0h.01M344.9 218.1h.01M324.8 215.5h.01M355.3 224.7h.01M375.3 194.0h.01M353.4 225.8h.01M343.3 209.3h.01M342.5 218.0h.01M362.5 194.1h.01M337.9 186.4h.01M374.5 200.6h.01M340.7 199.1h.01M336.9 218.8h.01M364.9 183.8h.01M355.3 210.0h.01M348.3 209.9h.01M385.4 212.3h.01M378.0 222.3h.01M334.7 227.2h.01M361.1 202.8h.01M367.7 231.7h.01M339.3 197.0h.01M362.2 185.0h.01M332.7 208.9h.01M372.5 217.2h.01M372.5 224.2h.01M345.9 201.9h.01M348.6 202.2h.01M377.5 220.8h.01M324.6 213.7h.01M336.4 192.2h.01M377.7 225.0h.01M379.1 218.2h.01M383.5 194.9h.01M373.9 197.1h.01M345.5 186.3h.01M377.5 227.2h.01M375.0 198.6h.01M360.0 190.9h.01M351.3 229.6h.01M384.0 217.1h.01M374.0 206.1h.01M365.1 205.2h.01M367.3 197.3h.01M377.8 204.4h.01M361.4 205.8h.01M382.4 220.0h.01M340.0 193.4h.01M369.9 210.2h.01M350.7 212.3h.01M385.7 207.0h.01M383.1 201.2h.01M350.8 214.0h.01M354.7 199.3h.01M333.8 202.8h.01M346.7 208.2h.01M377.9 216.4h.01M380.2 211.6h.01M366.6 219.2h.01M370.9 223.9h.01M343.7 215.9h.01M360.5 227.2h.01M374.6 199.0h.01M365.9 220.5h.01M357.6 227.6h.01M361.8 188.9h.01M363.3 221.7h.01M339.4 219.7h.01M328.8 223.6h.01M329.7 201.3h.01M350.3 187.6h.01M363.1 193.1h.01M339.2 185.8h.01M369.8 225.6h.01M349.7 212.3h.01M384.7 213.6h.01M377.6 222.5h.01M372.7 217.3h.01M380.5 211.8h.01M359.7 196.0h.01M326.1 198.0h.01M349.7 225.2h.01M350.9 184.1h.01M369.5 226.4h.01M364.3 214.0h.01M363.6 207.4h.01M381.8 197.1h.01M343.0 188.2h.01M345.4 196.7h.01M341.7 212.1h.01M375.0 190.3h.01M359.7 196.3h.01M341.6 200.8h.01M363.4 186.3h.01M384.6 207.3h.01M343.9 187.0h.01M377.8 219.1h.01M376.2 211.2h.01M380.5 225.0h.01M388.1 212.4h.01M377.2 202.5h.01M359.8 202.9h.01M358.2 210.0h.01M357.6 208.5h.01M360.8 201.2h.01M341.0 200.7h.01M370.8 220.4h.01M370.0 231.4h.01M336.5 221.4h.01M331.2 200.0h.01M338.5 209.7h.01M376.9 226.6h.01M364.0 224.3h.01M365.3 189.6h.01M385.0 200.5h.01M344.3 207.2h.01M336.5 198.2h.01M372.0 193.5h.01M345.5 186.0h.01M325.3 212.4h.01M366.8 202.0h.01M383.7 196.2h.01M368.1 196.1h.01M355.9 217.5h.01M334.3 225.4h.01M354.4 209.4h.01M352.7 215.0h.01M334.6 192.1h.01M365.1 204.5h.01M347.2 214.3h.01M382.3 195.3h.01M323.0 204.8h.01M326.3 205.1h.01M335.5 209.2h.01M387.2 207.2h.01M329.4 194.8h.01M338.1 189.3h.01M367.3 211.8h.01M376.4 220.8h.01M353.5 197.9h.01M344.5 207.7h.01M344.5 186.8h.01M384.8 221.3h.01M349.9 200.1h.01M348.0 216.3h.01M351.5 183.3h.01M362.6 217.9h.01M334.3 190.5h.01M354.4 190.5h.01M376.5 221.0h.01M326.7 214.4h.01M329.8 198.3h.01M382.5 204.3h.01M371.1 200.8h.01M387.9 208.2h.01M389.3 212.8h.01M347.9 209.8h.01M351.5 229.8h.01M336.0 221.7h.01M380.9 222.2h.01M334.3 225.0h.01M372.7 225.0h.01M334.8 211.2h.01M380.6 210.3h.01M361.8 200.9h.01M352.4 209.0h.01M389.5 207.1h.01M345.8 191.8h.01M366.7 211.9h.01M347.5 185.7h.01M387.5 206.3h.01M340.1 213.0h.01M336.7 204.0h.01M325.3 201.2h.01M323.8 215.5h.01M354.6 202.5h.01M355.5 186.9h.01M354.6 207.0h.01M373.3 195.4h.01M342.3 205.5h.01M359.9 208.7h.01M360.7 221.9h.01M360.7 213.2h.01M352.0 186.4h.01M367.7 199.8h.01M352.5 188.1h.01M382.8 221.0h.01M346.9 216.7h.01M369.3 230.8h.01M359.8 223.8h.01M336.5 203.5h.01M350.4 201.6h.01M332.5 216.5h.01M336.5 194.2h.01M352.7 228.6h.01M379.3 204.9h.01M336.8 189.3h.01M355.7 221.4h.01M374.3 205.3h.01M337.5 215.1h.01M381.1 207.2h.01M366.9 201.6h.01M351.3 228.6h.01M344.5 227.3h.01M346.5 207.6h.01M373.2 219.1h.01M342.0 205.7h.01M355.9 208.9h.01M354.1 222.4h.01M336.0 220.9h.01M373.3 190.4h.01M355.0 194.2h.01M327.0 208.6h.01M369.1 200.1h.01M363.6 208.6h.01M324.4 205.7h.01M373.2 226.9h.01M336.0 189.3h.01M365.1 203.0h.01M359.4 198.8h.01M371.8 219.1h.01M347.0 208.5h.01M353.7 218.8h.01M363.1 214.1h.01M371.7 209.8h.01M345.7 222.9h.01M346.9 188.9h.01M336.7 209.1h.01M344.8 200.5h.01M361.0 215.8h.01M349.8 199.5h.01M359.4 223.2h.01M330.8 199.8h.01M334.0 197.0h.01M367.5 231.2h.01M354.2 191.5h.01M335.4 220.0h.01M376.0 222.2h.01M372.8 199.0h.01M338.9 208.1h.01M373.6 199.4h.01M337.6 224.9h.01M333.5 225.8h.01M333.9 218.6h.01M347.2 226.8h.01M345.2 209.5h.01M366.4 201.3h.01M331.1 198.2h.01M336.9 210.9h.01M323.4 215.5h.01M387.9 209.8h.01M337.6 196.7h.01M338.4 192.2h.01M372.2 185.5h.01M335.9 206.5h.01M334.9 226.9h.01M347.0 208.9h.01M346.1 203.4h.01M340.3 225.2h.01M337.1 195.6h.01M368.7 190.2h.01M386.1 203.6h.01M353.3 230.9h.01M334.8 227.4h.01M339.9 196.6h.01M370.2 229.3h.01M353.4 210.6h.01M356.9 206.0h.01M361.7 209.3h.01M340.3 192.6h.01M323.3 210.6h.01M340.8 210.2h.01M367.3 207.8h.01M371.3 211.8h.01M377.7 205.5h.01M343.1 220.4h.01M335.7 224.4h.01M344.4 197.5h.01M367.2 229.9h.01M333.7 201.1h.01M366.2 232.5h.01M323.9 203.6h.01" stroke="#9a9cc4" stroke-width="0.7" stroke-linecap="round" fill="none" opacity="0.5"/>
<path d="M346.7 203.8h.01M352.1 200.8h.01M350.1 198.0h.01M350.5 196.0h.01M339.9 191.8h.01M336.9 197.6h.01M348.9 202.8h.01M349.9 198.1h.01M351.1 196.5h.01M335.5 200.2h.01M342.1 197.9h.01M344.4 204.0h.01M353.7 198.4h.01M338.0 200.5h.01M339.7 201.7h.01M335.3 196.1h.01M352.4 192.5h.01M346.9 197.6h.01M352.9 194.1h.01M349.0 203.3h.01M336.0 192.7h.01M349.7 193.1h.01M338.0 201.9h.01M351.9 201.2h.01M353.2 199.8h.01M341.5 188.6h.01M349.7 191.3h.01M346.5 198.9h.01M336.6 195.0h.01M355.3 199.3h.01M335.0 195.7h.01M346.1 199.9h.01M352.0 196.4h.01M344.2 201.2h.01M337.2 201.1h.01M348.9 193.9h.01M341.1 198.0h.01M338.9 189.2h.01M348.1 202.7h.01M344.6 196.9h.01M345.6 191.3h.01M348.8 200.6h.01M345.9 201.1h.01M337.7 197.7h.01M339.5 193.7h.01M347.9 197.3h.01M351.8 199.6h.01M338.1 201.5h.01M334.9 195.8h.01M348.0 195.7h.01M349.5 196.3h.01M338.1 200.0h.01M344.7 191.3h.01M345.6 195.9h.01M347.8 192.9h.01M346.5 195.0h.01M355.2 194.5h.01M354.1 195.6h.01M350.2 203.1h.01M341.8 196.8h.01" stroke="#8a8ec6" stroke-width="0.7" stroke-linecap="round" fill="none" opacity="0.5"/>
<ellipse cx="337.20" cy="178.60" rx="13.60" ry="11.60" fill="#efeff7" fill-opacity="0.9" stroke="#9c9fca" stroke-width="0.45" opacity="1"/>
<ellipse cx="337.20" cy="178.60" rx="12.40" ry="10.40" fill="none" fill-opacity="0" stroke="#a3a5cc" stroke-width="0.4" opacity="1"/>
<ellipse cx="336.82" cy="178.18" rx="10.42" ry="8.74" fill="none" fill-opacity="0" stroke="#a3a5cc" stroke-width="0.4" opacity="1"/>
<ellipse cx="336.43" cy="177.77" rx="8.43" ry="7.07" fill="none" fill-opacity="0" stroke="#a3a5cc" stroke-width="0.4" opacity="1"/>
<ellipse cx="336.05" cy="177.35" rx="6.45" ry="5.41" fill="none" fill-opacity="0" stroke="#a3a5cc" stroke-width="0.4" opacity="1"/>
<ellipse cx="335.66" cy="176.94" rx="4.46" ry="3.74" fill="none" fill-opacity="0" stroke="#a3a5cc" stroke-width="0.4" opacity="1"/>
<ellipse cx="335.28" cy="176.52" rx="2.48" ry="2.08" fill="none" fill-opacity="0" stroke="#a3a5cc" stroke-width="0.4" opacity="1"/>
<ellipse cx="334.80" cy="176.00" rx="2.20" ry="1.80" fill="#fff" fill-opacity="1" stroke="#8a8ec6" stroke-width="0.3" opacity="1"/>
<path d="M323 210 C 323 203, 330 200, 338 200.6 C 346 201, 354 204, 356 212 C 357 220, 350 226.4, 342 226 C 333 225.6, 323 220, 323 210 Z" fill="#fff" fill-opacity="0.9" stroke="#9c9ec8" stroke-width="0.5"/>
<ellipse cx="343.00" cy="214.00" rx="13.50" ry="9.60" fill="#fff" fill-opacity="0.6" stroke="#9c9ec8" stroke-width="0.45" opacity="1"/>
<ellipse cx="345.50" cy="214.60" rx="11.00" ry="7.60" fill="none" fill-opacity="1" stroke="#9c9ec8" stroke-width="0.45" opacity="1"/>
<ellipse cx="347.50" cy="215.20" rx="8.80" ry="6.00" fill="none" fill-opacity="1" stroke="#9c9ec8" stroke-width="0.45" opacity="1"/>
<ellipse cx="349.50" cy="215.80" rx="6.80" ry="4.60" fill="none" fill-opacity="1" stroke="#9c9ec8" stroke-width="0.45" opacity="1"/>
<ellipse cx="351.00" cy="216.40" rx="5.00" ry="3.40" fill="none" fill-opacity="1" stroke="#9c9ec8" stroke-width="0.4" opacity="1"/>
<ellipse cx="368.40" cy="217.40" rx="18.00" ry="16.40" fill="#dcdcea" fill-opacity="0.95" stroke="#a0a2c8" stroke-width="0.45" opacity="1"/>
<ellipse cx="368.00" cy="217.60" rx="15.00" ry="13.60" fill="#cdcee2" fill-opacity="0.95" stroke="#a0a2c8" stroke-width="0.4" opacity="1"/>
<ellipse cx="367.60" cy="217.80" rx="12.40" ry="11.20" fill="none" fill-opacity="0" stroke="#9a9cc8" stroke-width="0.4" opacity="1"/>
<ellipse cx="367.40" cy="217.87" rx="10.29" ry="9.30" fill="none" fill-opacity="0" stroke="#9a9cc8" stroke-width="0.4" opacity="1"/>
<ellipse cx="367.19" cy="217.94" rx="8.18" ry="7.39" fill="none" fill-opacity="0" stroke="#9a9cc8" stroke-width="0.4" opacity="1"/>
<ellipse cx="366.99" cy="218.00" rx="6.08" ry="5.49" fill="none" fill-opacity="0" stroke="#9a9cc8" stroke-width="0.4" opacity="1"/>
<ellipse cx="366.78" cy="218.07" rx="3.97" ry="3.58" fill="none" fill-opacity="0" stroke="#9a9cc8" stroke-width="0.4" opacity="1"/>
<ellipse cx="366.58" cy="218.14" rx="1.86" ry="1.68" fill="none" fill-opacity="0" stroke="#9a9cc8" stroke-width="0.4" opacity="1"/>
<ellipse cx="366.20" cy="218.20" rx="1.50" ry="1.40" fill="#fff" fill-opacity="1" stroke="#8a8ec6" stroke-width="0.3" opacity="1"/>
</g>
<ellipse cx="337.4" cy="178.8" rx="15.4" ry="13.0" fill="none" stroke="#3f9a72" stroke-width="1.4" stroke-dasharray="1.1 1.4"/>
<ellipse cx="368.8" cy="217.6" rx="19.8" ry="18.0" fill="none" stroke="#15151d" stroke-width="1.4" stroke-dasharray="1.1 1.5"/>
<rect x="307.00" y="150.80" width="97.30" height="96.60" fill="none" stroke="#262626" stroke-width="1.3"/>
<line x1="305.85" y1="154.80" x2="305.85" y2="247.40" stroke="#444" stroke-width="1.5" stroke-dasharray="0.6 3.258"/>
<line x1="307.00" y1="248.55" x2="401.30" y2="248.55" stroke="#444" stroke-width="1.5" stroke-dasharray="0.6 3.329"/>
<text transform="translate(321.20 163.40)" font-size="6.6" font-weight="bold" text-anchor="start" fill="#7fa46c" >CD8α DCs</text>
<text transform="translate(352.40 244.60)" font-size="6.6" font-weight="bold" text-anchor="start" fill="#1d1d1d" >CD11b DCs</text>
<text transform="translate(291.40 176.70)" font-size="7.5" font-weight="normal" text-anchor="start" fill="#161616"  stroke="#161616" stroke-width="0.2">10<tspan font-size="4.4" dy="-2.6">4</tspan></text>
<line x1="304.00" y1="173.80" x2="307.00" y2="173.80" stroke="#111" stroke-width="0.8"/>
<text transform="translate(291.40 206.10)" font-size="7.5" font-weight="normal" text-anchor="start" fill="#161616"  stroke="#161616" stroke-width="0.2">10<tspan font-size="4.4" dy="-2.6">3</tspan></text>
<line x1="304.00" y1="203.20" x2="307.00" y2="203.20" stroke="#111" stroke-width="0.8"/>
<text transform="translate(297.00 218.80)" font-size="7.5" font-weight="normal" text-anchor="start" fill="#161616"  stroke="#161616" stroke-width="0.2">0</text>
<line x1="304.00" y1="216.20" x2="307.00" y2="216.20" stroke="#111" stroke-width="0.8"/>
<text transform="translate(303.20 247.20) rotate(-90) scale(1.04 1)" font-size="7.6" font-weight="bold" text-anchor="start" fill="#000"  stroke="#000" stroke-width="0.34">CD8α</text>
<text transform="translate(299.60 260.20)" font-size="7" font-weight="bold" text-anchor="start" fill="#000"  stroke="#000" stroke-width="0.34">CD11b</text>
<text transform="translate(324.40 259.80)" font-size="7.5" font-weight="normal" text-anchor="start" fill="#161616"  stroke="#161616" stroke-width="0.2">0</text>
<text transform="translate(340.60 259.80)" font-size="7.5" font-weight="normal" text-anchor="start" fill="#161616"  stroke="#161616" stroke-width="0.2">10<tspan font-size="4.4" dy="-2.6">3</tspan></text>
<text transform="translate(366.20 259.80)" font-size="7.5" font-weight="normal" text-anchor="start" fill="#161616"  stroke="#161616" stroke-width="0.2">10<tspan font-size="4.4" dy="-2.6">4</tspan></text>
<text transform="translate(390.30 259.80)" font-size="7.5" font-weight="normal" text-anchor="start" fill="#161616"  stroke="#161616" stroke-width="0.2">10<tspan font-size="4.4" dy="-2.6">5</tspan></text>
<line x1="306.80" y1="121.60" x2="276.81" y2="146.93" stroke="#c9302a" stroke-width="1.9"/>
<polygon points="272.00,151.00 274.94,143.94 279.45,149.29" fill="#c9302a"/>
<line x1="183.00" y1="193.50" x2="119.30" y2="193.50" stroke="#c9302a" stroke-width="1.9"/>
<polygon points="113.00,193.50 119.80,190.00 119.80,197.00" fill="#c9302a"/>
<line x1="175.40" y1="248.00" x2="139.75" y2="273.44" stroke="#5f8f3a" stroke-width="1.5"/>
<polygon points="135.60,276.40 138.59,270.95 141.73,275.35" fill="#5f8f3a"/>
<line x1="229.40" y1="247.40" x2="229.40" y2="269.50" stroke="#3d82c6" stroke-width="1.9"/>
<polygon points="229.40,275.80 225.90,269.00 232.90,269.00" fill="#3d82c6"/>
<line x1="264.00" y1="360.80" x2="286.70" y2="360.80" stroke="#3d82c6" stroke-width="1.9"/>
<polygon points="293.00,360.80 286.20,364.30 286.20,357.30" fill="#3d82c6"/>
<g filter="url(#soft)">
<path d="M70.4 344.5h.01M77.6 354.8h.01M78.3 342.5h.01M75.4 338.9h.01M69.6 337.3h.01M77.6 344.8h.01M72.8 330.4h.01M73.6 335.0h.01M74.2 348.0h.01M68.2 341.3h.01M69.6 333.5h.01M70.1 352.4h.01M76.6 347.8h.01M71.7 328.4h.01M72.4 344.5h.01M73.7 350.2h.01M72.9 357.9h.01M75.8 358.1h.01M75.0 339.1h.01M71.0 350.7h.01M77.9 343.7h.01M75.7 338.7h.01M72.3 338.4h.01M69.0 333.9h.01M74.2 343.6h.01M77.8 348.6h.01M75.7 342.6h.01M68.2 342.4h.01M70.7 347.5h.01M72.8 337.8h.01M71.8 338.4h.01M69.4 330.9h.01M78.2 346.5h.01M72.2 337.7h.01M73.3 359.8h.01M76.1 341.9h.01M72.4 325.1h.01M74.4 356.0h.01M77.5 344.9h.01M71.9 329.7h.01M74.3 336.8h.01M70.8 355.7h.01M70.5 335.9h.01M69.1 352.3h.01M73.3 340.9h.01M75.1 332.2h.01M71.5 345.4h.01M70.8 345.5h.01M78.0 349.6h.01M78.2 351.6h.01M79.2 344.5h.01M75.5 330.1h.01M73.2 333.3h.01M73.7 330.3h.01M74.7 359.5h.01M71.0 348.4h.01M76.3 333.6h.01M72.8 335.5h.01M75.7 334.4h.01M79.6 347.5h.01M76.7 357.5h.01M78.7 340.8h.01M75.5 342.3h.01M75.0 352.8h.01M69.5 330.6h.01M72.6 347.3h.01M71.9 339.5h.01M77.8 348.9h.01M73.5 337.7h.01M69.2 346.5h.01M74.3 330.9h.01M75.9 337.2h.01M72.9 326.6h.01M77.1 333.4h.01M75.1 344.3h.01M71.5 340.6h.01M72.8 338.2h.01M74.5 333.7h.01M76.5 342.6h.01M69.7 345.6h.01" stroke="#8a8ec6" stroke-width="0.7" stroke-linecap="round" fill="none" opacity="0.5"/>
<path d="M85.3 340.6h.01M88.6 339.8h.01M95.3 325.9h.01M90.3 337.0h.01M87.1 342.9h.01M102.8 350.8h.01M99.1 337.2h.01M99.1 327.5h.01M92.8 346.7h.01M87.3 334.3h.01M86.1 332.6h.01M109.2 341.9h.01M109.6 329.4h.01M92.7 338.7h.01M101.5 336.0h.01M102.2 332.2h.01M91.6 352.9h.01M96.5 349.7h.01M93.2 342.2h.01M81.1 340.1h.01M102.6 341.5h.01M94.3 341.6h.01M82.8 346.9h.01M85.8 335.0h.01M97.4 333.3h.01M86.0 340.7h.01M90.6 338.9h.01M94.6 334.9h.01M108.1 344.6h.01M103.7 331.1h.01M91.5 345.7h.01M99.6 349.4h.01M100.4 341.5h.01M91.0 343.7h.01M83.0 334.7h.01M93.0 329.7h.01M94.2 348.8h.01M108.6 332.2h.01M95.4 347.3h.01M106.9 337.9h.01M85.8 339.8h.01M100.0 327.0h.01M101.6 347.4h.01M102.3 329.2h.01M92.0 338.9h.01M86.3 345.3h.01M90.9 348.1h.01M84.1 339.8h.01M90.2 342.8h.01M85.0 351.1h.01M94.3 341.5h.01M106.9 332.9h.01M100.9 337.7h.01M106.7 339.7h.01M106.0 332.7h.01M87.8 346.5h.01M86.1 344.6h.01M87.4 328.8h.01M88.6 333.3h.01M82.3 334.4h.01M102.9 341.5h.01M83.1 337.3h.01M84.8 335.8h.01M96.6 328.8h.01M94.7 324.9h.01M86.0 350.7h.01M86.8 329.4h.01M111.4 334.5h.01M90.7 326.3h.01M103.4 333.7h.01M91.0 336.5h.01M80.6 339.2h.01M103.0 343.9h.01M103.2 338.3h.01M99.3 341.9h.01M109.9 331.0h.01M85.0 348.5h.01M87.6 332.8h.01M88.0 349.7h.01M87.6 341.0h.01M92.5 350.7h.01M89.0 337.7h.01M81.2 337.9h.01M100.1 327.2h.01M106.6 337.4h.01M99.8 338.8h.01M100.4 347.4h.01M91.1 329.0h.01M99.2 350.3h.01M85.3 344.7h.01M99.8 347.5h.01M94.2 351.6h.01M86.7 345.5h.01M86.6 346.0h.01M85.9 332.1h.01M94.7 330.0h.01M93.3 325.3h.01M108.2 331.3h.01M111.0 336.3h.01M96.2 337.1h.01M95.6 347.3h.01M89.9 329.9h.01M97.7 344.9h.01M100.1 341.0h.01M93.0 325.6h.01M104.3 347.9h.01M101.2 333.8h.01M85.2 340.6h.01M108.5 329.4h.01M102.9 335.8h.01M98.1 327.8h.01M82.0 345.0h.01M90.5 326.5h.01M95.9 342.2h.01M93.4 337.1h.01M80.9 341.8h.01M90.2 349.9h.01M101.2 341.6h.01M81.2 338.2h.01M98.6 337.5h.01" stroke="#8a8ec6" stroke-width="0.7" stroke-linecap="round" fill="none" opacity="0.5"/>
<defs><linearGradient id="lg7" x1="0" y1="0" x2="0" y2="1"><stop offset="0" stop-color="#a9acdc"/><stop offset="0.4" stop-color="#7479c4"/><stop offset="0.75" stop-color="#4f56b0"/><stop offset="1" stop-color="#3a42a2"/></linearGradient></defs>
<rect x="68.8" y="322.8" width="10.2" height="35.4" rx="4.6" ry="5" fill="#d3d4ec" stroke="#8a8ec6" stroke-width="0.4"/>
<rect x="69.8" y="324.6" width="8.2" height="32.8" rx="3.8" ry="4.4" fill="url(#lg7)"/>
<path d="M77 350 C 80 350, 83 352, 84.6 355 C 82 357.6, 78 358, 74 357.6 Z" fill="#8d91cd" opacity="0.8"/>
<ellipse cx="73.60" cy="353.20" rx="3.60" ry="3.40" fill="#3a42a2" fill-opacity="1" stroke="none" stroke-width="0" opacity="1"/>
<line x1="73.8" y1="332" x2="73.8" y2="351" stroke="#eeeef8" stroke-width="0.6" stroke-dasharray="0.8 0.5"/>
<ellipse cx="73.70" cy="353.40" rx="0.80" ry="0.80" fill="#f4f4fb" fill-opacity="1" stroke="none" stroke-width="0" opacity="1"/>
<ellipse cx="93.00" cy="341.50" rx="12.50" ry="8.60" fill="#f1f1f9" fill-opacity="0.8" stroke="#a4a6ce" stroke-width="0.45" opacity="1" transform="rotate(-30 93.00 341.50)"/>
<ellipse cx="92.00" cy="342.20" rx="11.00" ry="7.40" fill="none" fill-opacity="0" stroke="#a0a2cc" stroke-width="0.4" opacity="1" transform="rotate(-30 92.00 342.20)"/>
<ellipse cx="91.42" cy="342.62" rx="9.24" ry="6.22" fill="none" fill-opacity="0" stroke="#a0a2cc" stroke-width="0.4" opacity="1" transform="rotate(-30 91.42 342.62)"/>
<ellipse cx="90.85" cy="343.03" rx="7.48" ry="5.03" fill="none" fill-opacity="0" stroke="#a0a2cc" stroke-width="0.4" opacity="1" transform="rotate(-30 90.85 343.03)"/>
<ellipse cx="90.27" cy="343.45" rx="5.72" ry="3.85" fill="none" fill-opacity="0" stroke="#a0a2cc" stroke-width="0.4" opacity="1" transform="rotate(-30 90.27 343.45)"/>
<ellipse cx="89.70" cy="343.86" rx="3.96" ry="2.66" fill="none" fill-opacity="0" stroke="#a0a2cc" stroke-width="0.4" opacity="1" transform="rotate(-30 89.70 343.86)"/>
<ellipse cx="89.12" cy="344.28" rx="2.20" ry="1.48" fill="none" fill-opacity="0" stroke="#a0a2cc" stroke-width="0.4" opacity="1" transform="rotate(-30 89.12 344.28)"/>
</g>
<ellipse cx="95.9" cy="339.3" rx="15.6" ry="11.8" transform="rotate(-28 95.9 339.3)" fill="none" stroke="#15151d" stroke-width="1.5" stroke-dasharray="1.3 1.5"/>
<rect x="39.60" y="276.80" width="96.80" height="96.70" fill="none" stroke="#262626" stroke-width="1.3"/>
<line x1="38.45" y1="280.80" x2="38.45" y2="373.50" stroke="#444" stroke-width="1.5" stroke-dasharray="0.6 3.262"/>
<line x1="39.60" y1="374.65" x2="133.40" y2="374.65" stroke="#444" stroke-width="1.5" stroke-dasharray="0.6 3.308"/>
<text transform="translate(105.20 323.00)" font-size="6.6" font-weight="bold" text-anchor="middle" fill="#1c1c1c" stroke="#1c1c1c" stroke-width="0.2">RPMs</text>
<text transform="translate(23.40 289.90)" font-size="7.5" font-weight="normal" text-anchor="start" fill="#161616"  stroke="#161616" stroke-width="0.2">10<tspan font-size="4.4" dy="-2.6">5</tspan></text>
<line x1="36.60" y1="287.00" x2="39.60" y2="287.00" stroke="#111" stroke-width="0.8"/>
<text transform="translate(23.40 312.90)" font-size="7.5" font-weight="normal" text-anchor="start" fill="#161616"  stroke="#161616" stroke-width="0.2">10<tspan font-size="4.4" dy="-2.6">4</tspan></text>
<line x1="36.60" y1="310.00" x2="39.60" y2="310.00" stroke="#111" stroke-width="0.8"/>
<text transform="translate(23.40 338.10)" font-size="7.5" font-weight="normal" text-anchor="start" fill="#161616"  stroke="#161616" stroke-width="0.2">10<tspan font-size="4.4" dy="-2.6">3</tspan></text>
<line x1="36.60" y1="335.20" x2="39.60" y2="335.20" stroke="#111" stroke-width="0.8"/>
<text transform="translate(31.20 375.00) rotate(-90)" font-size="7" font-weight="bold" text-anchor="start" fill="#000"  stroke="#000" stroke-width="0.34">CD11c</text>
<text transform="translate(33.60 385.00)" font-size="7" font-weight="bold" text-anchor="start" fill="#000"  stroke="#000" stroke-width="0.34">F4/80</text>
<text transform="translate(74.20 385.20)" font-size="7.5" font-weight="normal" text-anchor="start" fill="#161616"  stroke="#161616" stroke-width="0.2">0</text>
<text transform="translate(104.60 385.20)" font-size="7.5" font-weight="normal" text-anchor="start" fill="#161616"  stroke="#161616" stroke-width="0.2">10<tspan font-size="4.4" dy="-2.6">4</tspan></text>
<text transform="translate(123.60 385.20)" font-size="7.5" font-weight="normal" text-anchor="start" fill="#161616"  stroke="#161616" stroke-width="0.2">10<tspan font-size="4.4" dy="-2.6">5</tspan></text>
<g filter="url(#soft)">
<path d="M197.6 322.1h.01M220.8 307.5h.01M251.2 319.3h.01M222.9 346.5h.01M217.3 294.9h.01M199.1 308.7h.01M243.4 334.8h.01M246.9 343.9h.01M260.1 328.5h.01M256.1 330.0h.01M215.4 335.4h.01M230.8 314.4h.01M261.7 329.4h.01M216.6 317.5h.01M264.9 315.5h.01M246.8 331.5h.01M242.0 331.4h.01M216.9 309.1h.01M225.2 311.1h.01M244.3 343.4h.01M208.1 330.1h.01M206.4 305.5h.01M223.0 321.7h.01M222.5 286.9h.01M258.6 314.1h.01M213.8 333.1h.01M216.5 293.6h.01M241.9 328.2h.01M210.2 335.3h.01M237.9 297.0h.01M261.9 323.1h.01M203.2 327.8h.01M232.3 338.6h.01M202.5 336.2h.01M250.5 332.3h.01M241.8 342.0h.01M247.5 321.9h.01M211.1 339.2h.01M252.4 325.0h.01M233.2 334.4h.01M191.2 322.7h.01M191.1 321.7h.01M246.1 344.7h.01M217.1 328.5h.01M227.7 287.4h.01M247.7 318.7h.01M230.9 299.4h.01M228.2 321.0h.01M257.0 324.3h.01M265.8 314.8h.01M222.1 317.9h.01M213.2 343.5h.01M243.0 295.7h.01M231.5 341.0h.01M198.2 321.6h.01M225.1 349.0h.01M240.1 310.1h.01M218.9 346.9h.01M221.5 348.6h.01M196.4 315.5h.01M223.1 303.8h.01M223.8 333.8h.01M215.1 293.6h.01M252.2 340.2h.01M211.6 325.5h.01M193.5 330.5h.01M200.1 308.7h.01M260.7 302.9h.01M229.6 297.4h.01M197.4 302.0h.01M235.1 294.4h.01M214.7 333.9h.01M225.5 294.1h.01M259.8 320.9h.01M255.9 301.8h.01M257.0 299.7h.01M195.1 311.8h.01M219.3 324.9h.01M215.2 332.3h.01M256.9 307.3h.01M199.0 311.5h.01M247.7 334.5h.01M220.7 298.9h.01M228.6 338.4h.01M214.0 341.7h.01M235.2 325.5h.01M215.9 342.7h.01M229.9 292.1h.01M249.1 310.3h.01M254.1 322.2h.01M212.9 322.7h.01M217.0 301.8h.01M229.6 336.3h.01M231.1 317.0h.01M215.2 331.0h.01M235.5 338.1h.01M234.7 348.1h.01M196.3 317.8h.01M241.6 336.6h.01M200.6 299.8h.01M228.0 339.7h.01M249.2 294.9h.01M231.9 341.2h.01M229.7 297.9h.01M213.7 294.9h.01M255.9 313.9h.01M218.5 300.8h.01M225.6 299.9h.01M205.2 318.0h.01M223.1 329.0h.01M232.3 341.3h.01M227.9 324.9h.01M234.7 301.9h.01M255.1 308.3h.01M200.8 337.2h.01M245.2 307.1h.01M249.4 336.2h.01M244.3 297.2h.01M233.2 297.9h.01M213.6 306.9h.01M208.5 328.9h.01M210.0 331.4h.01M233.5 305.7h.01M233.3 333.5h.01M255.0 313.8h.01M260.8 327.5h.01M252.1 297.3h.01M207.4 339.3h.01M223.2 329.1h.01M251.0 296.1h.01M236.6 347.1h.01M248.9 320.7h.01M243.7 319.1h.01M244.7 341.2h.01M223.2 331.4h.01M236.5 334.4h.01M247.2 299.0h.01M253.2 333.9h.01M203.2 313.2h.01M197.8 313.5h.01M236.5 296.4h.01M210.9 301.5h.01M212.2 303.1h.01M204.5 329.7h.01M223.6 301.5h.01M251.7 307.8h.01M247.4 297.0h.01M258.2 310.8h.01M206.3 327.0h.01M202.3 300.6h.01M235.3 308.2h.01M239.5 322.0h.01M235.8 321.8h.01M247.0 318.8h.01M251.8 335.3h.01M200.1 297.1h.01M259.8 311.2h.01M234.0 316.3h.01M233.1 348.5h.01M210.9 320.2h.01M229.1 297.2h.01M207.4 313.2h.01M228.6 327.4h.01M199.0 298.6h.01M261.1 315.7h.01M248.9 310.2h.01M217.1 347.4h.01M202.9 302.6h.01M246.1 319.2h.01M195.7 321.0h.01M243.2 293.3h.01M215.5 334.7h.01M252.5 293.8h.01M211.3 319.3h.01M208.3 301.5h.01M216.2 329.7h.01M205.7 334.5h.01M247.5 334.8h.01M259.3 309.8h.01M227.7 338.7h.01M254.1 334.5h.01M217.3 308.2h.01M200.0 310.7h.01M207.3 308.8h.01M219.7 335.7h.01M249.8 317.7h.01M202.2 317.7h.01M239.2 335.9h.01M234.0 335.4h.01M212.9 332.0h.01M247.2 311.4h.01M212.8 340.5h.01M206.2 331.8h.01M221.8 311.1h.01M222.3 309.0h.01M228.0 346.8h.01M259.1 316.3h.01M239.9 336.7h.01M220.9 346.7h.01M229.8 332.1h.01M208.4 298.5h.01M205.8 306.2h.01M252.9 312.5h.01M249.9 310.3h.01M205.8 322.1h.01M220.8 290.9h.01M229.9 341.2h.01M224.0 295.6h.01M212.4 296.6h.01M223.0 299.4h.01M225.9 322.7h.01M254.1 299.9h.01M199.2 338.0h.01M240.1 310.8h.01M240.8 300.2h.01M220.4 333.0h.01M220.6 321.8h.01M240.3 321.4h.01M222.7 329.9h.01M253.0 338.2h.01M208.6 333.4h.01M198.5 299.6h.01M239.0 330.1h.01M251.2 294.5h.01M253.1 308.3h.01M216.9 328.3h.01M256.1 303.1h.01M196.0 308.9h.01M226.1 341.3h.01M238.4 312.2h.01M215.9 308.7h.01M246.2 293.0h.01M212.5 301.4h.01M254.5 321.0h.01M212.8 333.7h.01M260.2 332.4h.01M199.8 314.7h.01M247.7 292.7h.01M201.3 310.8h.01M241.3 302.0h.01M232.8 315.1h.01M235.9 295.7h.01M200.8 295.9h.01M232.6 338.1h.01M238.1 291.7h.01M194.9 313.7h.01M212.4 291.2h.01M214.6 302.4h.01M225.5 326.9h.01M233.6 322.6h.01M242.1 316.2h.01M216.9 310.9h.01M255.1 313.1h.01M243.3 344.1h.01M252.0 293.6h.01M232.0 338.0h.01M217.3 303.6h.01M199.2 306.7h.01M228.3 289.0h.01M228.1 300.9h.01M228.9 296.9h.01M230.7 322.0h.01M211.7 304.7h.01M250.1 330.5h.01M209.4 327.3h.01M202.5 308.5h.01M190.9 312.1h.01M245.2 308.1h.01M242.8 305.1h.01M236.4 315.0h.01M212.8 346.1h.01M211.1 295.2h.01M231.7 328.7h.01M237.4 315.9h.01M239.3 336.7h.01M241.2 294.1h.01M261.5 317.7h.01M194.5 329.7h.01M224.5 324.6h.01M262.5 310.4h.01M213.9 299.3h.01M233.1 332.4h.01M238.6 322.0h.01M192.3 322.0h.01M252.8 308.5h.01M216.0 298.6h.01M233.2 291.5h.01M262.8 315.2h.01M215.2 295.9h.01M240.8 337.2h.01M213.9 322.1h.01M235.3 337.6h.01M241.5 340.6h.01M210.2 346.1h.01M217.0 296.9h.01M206.2 326.1h.01M239.4 347.9h.01M254.2 304.7h.01M219.5 308.2h.01M213.0 314.6h.01M214.9 339.9h.01M236.8 331.5h.01M224.8 295.9h.01M239.7 309.8h.01M259.3 334.4h.01M203.5 301.2h.01M214.3 313.7h.01M254.5 314.9h.01M240.2 311.4h.01M223.6 341.4h.01M228.5 347.7h.01M227.3 327.0h.01M238.3 332.3h.01M261.7 308.3h.01M216.0 299.7h.01M261.5 325.5h.01M239.9 328.2h.01M195.6 329.8h.01M231.9 325.3h.01M230.9 316.4h.01" stroke="#9496c2" stroke-width="0.7" stroke-linecap="round" fill="none" opacity="0.55"/>
<rect x="183" y="353" width="80" height="15.6" rx="7" fill="#c4c6e4" opacity="0.6"/>
<path d="M220.1 367.4h.01M207.2 352.4h.01M229.5 364.0h.01M233.4 363.4h.01M220.6 356.8h.01M203.9 359.2h.01M214.7 365.7h.01M238.3 354.0h.01M242.9 360.4h.01M244.6 366.7h.01M235.2 352.5h.01M237.9 353.1h.01M255.8 357.5h.01M220.4 368.3h.01M187.4 360.6h.01M197.9 357.7h.01M204.8 364.4h.01M216.7 362.8h.01M237.1 352.7h.01M255.1 359.3h.01M189.4 357.4h.01M243.8 365.5h.01M206.2 361.3h.01M230.5 366.2h.01M221.4 366.1h.01M202.2 356.5h.01M241.1 364.6h.01M223.8 364.4h.01M230.3 365.1h.01M250.9 363.2h.01M245.9 358.4h.01M214.5 351.5h.01M236.5 360.9h.01M234.6 352.3h.01M211.7 357.2h.01M190.1 364.3h.01M249.1 354.7h.01M232.7 368.0h.01M198.1 365.4h.01M247.7 366.7h.01M194.9 355.4h.01M229.5 366.9h.01M195.1 356.6h.01M200.4 365.9h.01M210.2 364.1h.01M238.9 366.4h.01M236.5 362.8h.01M251.1 363.0h.01M194.3 357.7h.01M247.7 361.4h.01M215.3 362.3h.01M262.0 360.2h.01M237.9 363.4h.01M218.3 366.9h.01M246.2 362.9h.01M197.5 366.1h.01M245.1 360.2h.01M182.6 360.2h.01M194.6 359.4h.01M211.4 355.7h.01M249.8 361.3h.01M251.1 355.9h.01M220.3 367.4h.01M233.9 356.3h.01M201.7 357.2h.01M222.8 364.8h.01M228.8 365.1h.01M246.5 361.3h.01M251.8 364.1h.01M219.9 359.7h.01M224.6 356.1h.01M192.4 360.8h.01M211.3 364.2h.01M208.4 361.3h.01M230.8 357.7h.01M230.3 356.2h.01M213.8 365.3h.01M236.0 360.7h.01M204.9 364.6h.01M250.4 353.7h.01M250.2 361.8h.01M246.7 365.9h.01M205.3 367.6h.01M208.4 359.1h.01M241.9 360.1h.01M232.5 357.4h.01M197.8 360.7h.01M201.9 366.7h.01M229.7 367.4h.01M202.6 352.5h.01M183.9 358.9h.01M193.8 362.5h.01M195.4 354.3h.01M232.9 358.2h.01M241.0 365.0h.01M233.2 353.9h.01M210.0 368.4h.01M218.5 362.5h.01M228.6 360.5h.01M220.1 357.1h.01M214.1 351.8h.01M258.0 360.0h.01M193.9 363.2h.01M238.9 353.4h.01M213.2 367.6h.01M239.2 363.2h.01M249.5 359.9h.01M218.1 367.9h.01M219.7 360.2h.01M242.0 360.8h.01M202.9 367.6h.01M222.6 368.3h.01M237.6 355.4h.01M256.9 359.7h.01M201.6 360.5h.01M185.1 362.1h.01M204.9 359.1h.01M202.4 364.4h.01M233.0 366.3h.01M257.4 361.7h.01M227.6 362.6h.01M203.2 357.4h.01M243.2 355.8h.01M185.8 358.9h.01M229.7 367.6h.01M206.5 355.3h.01M227.7 359.7h.01M231.8 357.4h.01M230.4 357.0h.01M248.7 362.1h.01M240.1 357.9h.01M190.9 360.6h.01M223.2 366.5h.01M248.8 360.4h.01M223.4 354.8h.01M223.7 362.0h.01M214.0 354.4h.01M251.5 356.0h.01M252.9 365.1h.01M254.9 356.6h.01M238.1 353.5h.01M216.0 352.8h.01M204.9 357.5h.01M244.8 365.7h.01M214.2 358.8h.01M202.3 354.5h.01M186.9 359.4h.01M239.6 356.1h.01M233.2 354.2h.01M198.8 357.5h.01M246.3 357.5h.01M244.2 358.5h.01M204.1 352.4h.01M212.1 355.0h.01M246.4 362.9h.01M191.0 364.2h.01M230.5 351.3h.01M197.7 361.9h.01M190.1 356.9h.01M238.3 362.0h.01M235.9 364.1h.01M209.9 368.4h.01M232.1 368.4h.01M217.0 363.9h.01M233.8 359.6h.01M232.9 362.1h.01M244.7 362.3h.01M225.7 363.5h.01M255.3 360.7h.01M240.3 361.3h.01M187.5 356.6h.01M203.9 353.6h.01M211.1 352.3h.01M231.5 357.2h.01M251.7 362.4h.01M193.3 359.2h.01M225.3 356.3h.01M214.9 354.3h.01M204.6 362.1h.01M216.0 366.7h.01M186.1 357.1h.01M215.6 367.5h.01M248.5 364.2h.01M241.7 367.1h.01M241.7 359.0h.01M228.7 356.1h.01M217.6 362.7h.01M209.9 361.0h.01M213.4 353.5h.01M192.5 363.6h.01M224.4 365.2h.01M220.8 360.3h.01M231.0 358.3h.01M250.8 364.8h.01M233.2 354.5h.01M208.9 361.6h.01M250.9 360.0h.01M222.6 363.5h.01M226.6 359.3h.01M199.5 365.9h.01M221.7 357.1h.01M220.5 353.3h.01M195.4 353.6h.01M231.3 353.4h.01M225.5 353.7h.01M187.7 357.4h.01M204.1 356.2h.01M257.3 361.0h.01M207.9 365.0h.01M215.0 366.5h.01M192.3 364.8h.01M197.2 356.3h.01M227.5 354.2h.01M188.3 358.2h.01M216.1 352.4h.01M245.1 355.7h.01M205.7 358.7h.01M223.5 365.9h.01M184.1 360.1h.01M244.8 361.4h.01M220.3 353.9h.01M231.3 357.1h.01M225.5 354.1h.01M213.3 359.1h.01M192.6 364.6h.01M219.2 353.3h.01M215.0 360.8h.01M213.6 354.3h.01M216.9 353.1h.01M191.5 364.9h.01M248.4 366.5h.01M255.8 364.6h.01M199.1 356.9h.01M248.3 357.5h.01M212.2 359.9h.01M231.4 353.1h.01M222.9 363.0h.01M188.1 364.2h.01M240.7 355.5h.01M257.5 361.8h.01M232.1 367.3h.01M182.7 360.0h.01M243.4 366.4h.01M221.0 358.8h.01M202.1 358.0h.01M208.8 351.7h.01M207.9 354.5h.01M206.1 357.3h.01M208.6 360.6h.01M220.1 357.7h.01M205.3 359.4h.01M213.2 359.2h.01M253.2 361.2h.01M214.8 351.7h.01M204.4 351.9h.01M241.8 365.6h.01M211.0 357.2h.01M234.5 363.4h.01M186.9 358.8h.01M214.7 353.4h.01" stroke="#8a8ec6" stroke-width="0.7" stroke-linecap="round" fill="none" opacity="0.55"/>
<path d="M265.6 346.9h.01M253.4 319.4h.01M258.3 346.5h.01M258.2 319.0h.01M256.3 352.4h.01M252.0 347.2h.01M262.5 342.7h.01M263.9 328.7h.01M258.4 354.8h.01M256.4 330.0h.01M251.3 330.6h.01M263.1 350.6h.01M263.2 344.5h.01M262.9 340.7h.01M265.3 334.2h.01M265.6 335.2h.01M251.7 323.7h.01M257.7 329.5h.01M252.3 327.1h.01M260.3 341.9h.01M264.1 325.3h.01M261.3 349.3h.01M260.8 354.4h.01M255.8 336.0h.01M260.2 330.3h.01M258.7 339.4h.01M258.8 328.9h.01M256.0 335.0h.01M250.8 338.1h.01M252.4 332.9h.01M252.4 337.3h.01M256.5 332.3h.01M254.2 337.6h.01M265.4 320.8h.01M262.5 339.2h.01M256.8 320.8h.01M267.3 338.1h.01M265.1 331.3h.01M254.7 349.0h.01M263.8 332.0h.01M257.6 344.6h.01M254.3 325.6h.01M258.8 349.1h.01M264.5 338.5h.01M266.6 334.3h.01M257.0 355.9h.01M255.8 344.2h.01M262.7 337.8h.01M260.5 345.6h.01M262.6 328.3h.01M259.1 352.3h.01M263.7 330.4h.01M259.4 323.3h.01M251.8 329.9h.01M267.1 329.5h.01M249.8 335.0h.01M254.9 345.7h.01M266.2 332.1h.01M259.8 324.4h.01M265.7 327.7h.01M259.2 356.3h.01M253.3 338.4h.01M258.7 342.7h.01M261.5 352.6h.01M262.2 344.3h.01M252.0 341.0h.01M252.5 348.7h.01M258.7 348.7h.01M255.8 339.4h.01M259.7 343.9h.01M258.4 328.1h.01M256.7 327.4h.01M254.1 322.4h.01M253.2 352.1h.01M254.9 322.9h.01M265.1 339.8h.01M258.3 350.3h.01M267.5 328.1h.01M266.6 342.6h.01M265.7 329.8h.01M266.6 347.2h.01M250.1 345.3h.01M265.4 322.4h.01M261.4 333.7h.01M260.5 324.8h.01M263.1 345.7h.01M258.4 335.2h.01M250.6 341.8h.01M251.7 336.5h.01M256.2 355.8h.01M259.1 353.3h.01M258.9 335.6h.01M263.9 335.8h.01M268.6 334.6h.01M266.5 324.7h.01M253.7 344.4h.01M253.5 352.7h.01M262.6 337.4h.01M267.6 330.9h.01M256.3 316.1h.01M250.0 333.2h.01M250.1 343.0h.01M265.0 341.9h.01M251.1 327.3h.01M251.7 344.1h.01M265.3 333.3h.01M259.5 339.5h.01M263.5 324.9h.01M253.5 345.8h.01M262.4 342.8h.01M259.5 346.6h.01M262.2 327.9h.01M266.8 346.5h.01M257.4 334.7h.01M255.2 320.5h.01M253.8 321.1h.01M254.8 340.6h.01M258.7 319.4h.01M257.8 327.4h.01M253.2 348.5h.01" stroke="#8a8ec6" stroke-width="0.7" stroke-linecap="round" fill="none" opacity="0.5"/>
<path d="M204.4 313 C 204 307, 210 305, 215 304 C 219 299, 226 297.6, 232 298 C 239 298.4, 243.4 305, 243.2 314 C 243 323, 238 330.4, 231 330.2 C 224 330, 219 326, 216 322 C 210 322.6, 204.8 319, 204.4 313 Z" fill="none" stroke="#9698c2" stroke-width="0.6"/>
<ellipse cx="231.20" cy="314.00" rx="10.40" ry="12.40" fill="none" fill-opacity="1" stroke="#9698c2" stroke-width="0.6" opacity="1"/>
<ellipse cx="231.60" cy="314.00" rx="7.20" ry="8.40" fill="none" fill-opacity="1" stroke="#9698c2" stroke-width="0.6" opacity="1"/>
<ellipse cx="230.60" cy="312.40" rx="0.90" ry="0.90" fill="none" fill-opacity="1" stroke="#9698c2" stroke-width="0.5" opacity="1"/>
<ellipse cx="258.80" cy="335.50" rx="8.60" ry="18.40" fill="#ccceea" fill-opacity="0.95" stroke="#8a8ec6" stroke-width="0.45" opacity="1" transform="rotate(8 258.80 335.50)"/>
<ellipse cx="259.00" cy="337.00" rx="7.20" ry="15.40" fill="#a4a8da" fill-opacity="0.95" stroke="#8a8ec6" stroke-width="0.4" opacity="1" transform="rotate(8 259.00 337.00)"/>
<ellipse cx="259.20" cy="338.50" rx="5.80" ry="12.00" fill="#7f85ca" fill-opacity="1" stroke="#6c72bc" stroke-width="0.4" opacity="1" transform="rotate(8 259.20 338.50)"/>
<ellipse cx="259.40" cy="340.00" rx="4.40" ry="8.80" fill="#5a62b8" fill-opacity="1" stroke="#4d55aa" stroke-width="0.4" opacity="1" transform="rotate(8 259.40 340.00)"/>
<ellipse cx="259.80" cy="340.40" rx="1.20" ry="4.60" fill="#c9cbe8" fill-opacity="1" stroke="none" stroke-width="0" opacity="1" transform="rotate(8 259.80 340.40)"/>
<ellipse cx="252.00" cy="353.50" rx="6.50" ry="4.00" fill="#b9bce0" fill-opacity="0.8" stroke="#8a8ec6" stroke-width="0.4" opacity="1" transform="rotate(-35 252.00 353.50)"/>
<ellipse cx="222.00" cy="360.40" rx="37.50" ry="7.60" fill="#e6e7f5" fill-opacity="0.8" stroke="#8a8ec6" stroke-width="0.45" opacity="1"/>
<ellipse cx="224.00" cy="360.60" rx="33.00" ry="6.00" fill="#dcddf0" fill-opacity="0.8" stroke="#8a8ec6" stroke-width="0.4" opacity="1"/>
<ellipse cx="226.00" cy="360.80" rx="28.00" ry="4.60" fill="#d3d5ec" fill-opacity="0.8" stroke="#8a8ec6" stroke-width="0.4" opacity="1"/>
<ellipse cx="228.00" cy="361.00" rx="22.00" ry="3.20" fill="#e6e7f5" fill-opacity="0.9" stroke="#8a8ec6" stroke-width="0.4" opacity="1"/>
<ellipse cx="222.00" cy="361.00" rx="12.00" ry="1.60" fill="#fff" fill-opacity="0.9" stroke="#8a8ec6" stroke-width="0.35" opacity="1"/>
<ellipse cx="198.00" cy="360.60" rx="6.00" ry="3.40" fill="#fff" fill-opacity="0.9" stroke="#8a8ec6" stroke-width="0.4" opacity="1"/>
<ellipse cx="251.00" cy="360.60" rx="9.50" ry="5.40" fill="#8a90d0" fill-opacity="0.95" stroke="#6c72bc" stroke-width="0.4" opacity="1"/>
<ellipse cx="252.00" cy="360.80" rx="7.00" ry="3.80" fill="#5d65ba" fill-opacity="1" stroke="#4d55aa" stroke-width="0.4" opacity="1"/>
<ellipse cx="250.00" cy="361.00" rx="3.40" ry="1.00" fill="#d9daef" fill-opacity="1" stroke="none" stroke-width="0" opacity="1"/>
</g>
<ellipse cx="260.0" cy="335.4" rx="10.2" ry="19.8" transform="rotate(10 260 335.4)" fill="none" stroke="#c02a3a" stroke-width="1.5" stroke-dasharray="1.3 1.5"/>
<rect x="181.4" y="351.4" width="82.4" height="18.8" fill="none" stroke="#3f9a72" stroke-width="1.5" stroke-dasharray="1.2 1.3"/>
<rect x="175.20" y="276.40" width="97.20" height="96.20" fill="none" stroke="#262626" stroke-width="1.3"/>
<line x1="174.05" y1="276.40" x2="174.05" y2="372.60" stroke="#444" stroke-width="1.5" stroke-dasharray="0.6 3.773"/>
<line x1="175.20" y1="373.75" x2="269.40" y2="373.75" stroke="#444" stroke-width="1.5" stroke-dasharray="0.6 3.325"/>
<text transform="translate(234.00 313.00)" font-size="6.6" font-weight="bold" text-anchor="start" fill="#a8202e" >Neutrophils</text>
<text transform="translate(180.80 348.90)" font-size="6.7" font-weight="bold" text-anchor="start" fill="#6a8f5a" >Monocytes</text>
<text transform="translate(168.20 280.10) scale(0.95 1)" font-size="7.5" font-weight="normal" text-anchor="end" fill="#161616"  stroke="#161616" stroke-width="0.2">200K</text>
<line x1="172.20" y1="277.40" x2="175.20" y2="277.40" stroke="#111" stroke-width="0.8"/>
<text transform="translate(168.20 304.10) scale(0.95 1)" font-size="7.5" font-weight="normal" text-anchor="end" fill="#161616"  stroke="#161616" stroke-width="0.2">150K</text>
<line x1="172.20" y1="301.40" x2="175.20" y2="301.40" stroke="#111" stroke-width="0.8"/>
<text transform="translate(168.20 328.10) scale(0.95 1)" font-size="7.5" font-weight="normal" text-anchor="end" fill="#161616"  stroke="#161616" stroke-width="0.2">100K</text>
<line x1="172.20" y1="325.40" x2="175.20" y2="325.40" stroke="#111" stroke-width="0.8"/>
<text transform="translate(168.20 352.10) scale(0.95 1)" font-size="7.5" font-weight="normal" text-anchor="end" fill="#161616"  stroke="#161616" stroke-width="0.2">50K</text>
<line x1="172.20" y1="349.40" x2="175.20" y2="349.40" stroke="#111" stroke-width="0.8"/>
<text transform="translate(167.20 374.00) rotate(-90) scale(0.92 1)" font-size="7" font-weight="bold" text-anchor="start" fill="#000"  stroke="#000" stroke-width="0.34">SSC-A</text>
<text transform="translate(169.60 385.20)" font-size="7" font-weight="bold" text-anchor="start" fill="#000"  stroke="#000" stroke-width="0.34">Ly6G / Ly6C</text>
<text transform="translate(219.60 385.20)" font-size="7.5" font-weight="normal" text-anchor="start" fill="#161616"  stroke="#161616" stroke-width="0.2">10<tspan font-size="4.4" dy="-2.6">3</tspan></text>
<text transform="translate(238.80 385.20)" font-size="7.5" font-weight="normal" text-anchor="start" fill="#161616"  stroke="#161616" stroke-width="0.2">10<tspan font-size="4.4" dy="-2.6">4</tspan></text>
<text transform="translate(258.60 385.20)" font-size="7.5" font-weight="normal" text-anchor="start" fill="#161616"  stroke="#161616" stroke-width="0.2">10<tspan font-size="4.4" dy="-2.6">5</tspan></text>
<g filter="url(#soft)">
<rect x="318" y="327.5" width="82" height="33" rx="6" fill="#d2d4ea" opacity="0.5"/>
<path d="M362.4 342.6h.01M356.5 335.5h.01M363.4 342.8h.01M383.2 332.2h.01M384.2 328.2h.01M359.6 354.0h.01M352.2 333.3h.01M356.3 352.1h.01M382.6 329.2h.01M363.9 334.4h.01M384.7 336.8h.01M361.3 355.7h.01M347.7 345.6h.01M334.9 338.5h.01M321.3 335.2h.01M341.7 333.4h.01M385.4 328.7h.01M317.2 344.1h.01M373.6 343.8h.01M377.1 359.2h.01M345.0 328.0h.01M351.3 356.0h.01M368.1 339.1h.01M364.8 345.8h.01M320.2 346.4h.01M333.0 338.9h.01M340.2 342.9h.01M381.7 339.4h.01M360.2 353.6h.01M368.7 333.4h.01M378.1 336.8h.01M347.3 344.9h.01M389.3 333.7h.01M343.9 344.0h.01M332.3 343.6h.01M379.7 327.5h.01M356.7 332.8h.01M396.4 347.6h.01M373.7 340.4h.01M328.9 343.0h.01M366.6 342.4h.01M393.7 349.6h.01M332.1 337.5h.01M363.6 328.6h.01M350.5 334.0h.01M361.4 343.9h.01M341.1 356.3h.01M340.0 350.7h.01M332.1 332.2h.01M338.6 337.0h.01M374.4 327.7h.01M389.1 331.9h.01M392.2 344.5h.01M342.9 352.7h.01M342.2 342.2h.01M358.1 361.9h.01M338.4 358.9h.01M348.6 333.2h.01M344.3 356.4h.01M350.7 332.4h.01M374.2 345.9h.01M381.0 330.5h.01M387.8 353.9h.01M336.4 338.0h.01M369.8 338.8h.01M378.1 349.4h.01M355.6 329.0h.01M318.2 344.8h.01M328.7 353.4h.01M395.1 343.5h.01M377.0 355.8h.01M376.0 329.9h.01M330.6 336.3h.01M358.2 331.5h.01M361.2 357.1h.01M343.8 342.2h.01M329.8 340.6h.01M377.6 356.3h.01M362.4 332.1h.01M385.7 328.9h.01M343.9 332.7h.01M355.9 349.8h.01M352.0 361.8h.01M395.3 349.7h.01M345.9 327.1h.01M385.4 351.9h.01M367.6 358.0h.01M367.8 327.5h.01M319.5 339.1h.01M360.2 350.5h.01M364.6 339.6h.01M334.3 349.1h.01M376.4 334.9h.01M331.0 337.3h.01M329.4 344.7h.01M326.2 345.9h.01M333.1 348.1h.01M395.0 334.5h.01M358.8 361.5h.01M381.9 344.6h.01M371.9 338.4h.01M337.6 326.5h.01M336.3 334.7h.01M385.7 345.4h.01M321.7 346.8h.01M328.9 353.8h.01M330.3 351.5h.01M358.9 335.3h.01M385.0 339.3h.01M316.9 345.4h.01M330.7 337.1h.01M362.5 351.7h.01M360.0 329.5h.01M339.0 329.7h.01M348.2 333.2h.01M376.4 333.3h.01M375.6 358.8h.01M369.9 339.2h.01M384.2 332.6h.01M354.0 357.3h.01M372.4 339.5h.01M347.0 335.1h.01M382.2 357.9h.01M392.0 342.5h.01M364.9 331.5h.01M328.3 349.5h.01M371.7 328.4h.01M325.3 345.8h.01M327.0 352.8h.01M383.1 330.7h.01M346.7 353.6h.01M383.6 341.5h.01M351.3 337.9h.01M371.5 349.6h.01M348.7 335.0h.01M351.7 338.7h.01M345.3 328.1h.01M357.1 352.3h.01M357.8 356.4h.01M366.1 351.4h.01M371.6 325.7h.01M374.1 354.6h.01M335.8 327.4h.01M329.5 337.9h.01M363.1 326.3h.01M350.2 328.4h.01M361.2 339.4h.01M360.2 334.1h.01M342.1 352.5h.01M326.0 341.2h.01M337.8 337.5h.01M336.1 354.8h.01M381.6 338.1h.01M396.8 343.9h.01M387.2 331.7h.01M340.2 333.7h.01M395.0 350.3h.01M344.5 345.6h.01M351.7 340.2h.01M333.0 352.5h.01M366.2 332.2h.01M366.2 353.5h.01M363.4 337.8h.01M373.9 351.6h.01M395.7 337.7h.01M367.0 342.1h.01M342.0 342.9h.01M325.9 334.3h.01M323.3 344.8h.01M345.5 330.7h.01M342.2 348.9h.01M350.3 324.5h.01M397.6 339.4h.01M377.6 330.4h.01M343.4 343.2h.01M363.4 335.2h.01M393.2 335.6h.01M349.7 360.7h.01M359.5 325.9h.01M375.0 349.2h.01M380.9 358.3h.01M359.1 355.7h.01M358.4 331.0h.01M335.6 331.9h.01M328.6 355.6h.01M340.3 328.7h.01M354.2 328.1h.01M377.5 358.9h.01M370.6 340.9h.01M345.7 349.1h.01M379.6 353.7h.01M344.0 345.8h.01M323.2 344.8h.01M380.2 354.5h.01M337.3 328.4h.01M397.4 342.9h.01M349.5 346.9h.01M349.4 349.8h.01M373.3 333.8h.01M324.8 337.0h.01M317.3 347.7h.01M340.4 330.7h.01M368.4 351.0h.01M347.5 331.3h.01M323.4 334.5h.01M341.0 327.4h.01M350.7 346.7h.01M351.2 360.8h.01M358.9 349.6h.01M396.1 350.9h.01M360.9 348.1h.01M352.5 346.1h.01M353.7 327.4h.01M326.4 350.6h.01M395.2 344.9h.01M335.2 330.2h.01M383.6 357.5h.01M387.0 341.8h.01M345.2 355.4h.01M350.7 330.5h.01M318.5 338.0h.01M351.3 331.6h.01M389.4 333.9h.01M387.2 344.8h.01M350.6 353.0h.01M331.7 355.7h.01M342.0 337.0h.01M372.8 346.0h.01M336.1 352.9h.01M330.6 343.2h.01M335.0 341.1h.01M376.8 340.3h.01M334.8 354.3h.01M372.1 332.7h.01M343.9 335.8h.01M399.2 344.3h.01M391.4 349.8h.01M380.5 345.1h.01M318.4 341.3h.01M365.6 333.2h.01M394.4 343.8h.01M356.9 324.7h.01M381.0 354.5h.01M328.9 331.0h.01M379.2 329.4h.01M365.0 338.6h.01M390.5 341.8h.01M370.9 338.5h.01M318.6 341.2h.01M390.1 339.8h.01M363.0 341.2h.01M374.8 348.9h.01M383.0 331.6h.01M322.1 351.1h.01M342.1 342.3h.01M391.8 337.2h.01M395.1 342.4h.01M318.3 342.5h.01M360.5 344.2h.01M354.4 361.5h.01M389.1 351.7h.01M343.2 341.4h.01M367.2 358.6h.01M327.8 354.5h.01M388.2 347.5h.01M370.2 335.5h.01M352.5 357.2h.01M373.6 356.6h.01M379.0 338.0h.01M377.0 358.6h.01M394.6 348.8h.01M325.0 351.1h.01M328.8 356.1h.01M340.0 330.8h.01M386.7 349.4h.01M361.0 359.0h.01M349.6 351.3h.01M371.4 350.4h.01M373.7 350.1h.01M320.1 339.0h.01M362.2 331.7h.01M380.2 337.9h.01M330.2 349.2h.01M334.0 335.2h.01M348.3 335.8h.01M363.7 353.7h.01M338.4 346.6h.01M347.6 340.9h.01M332.8 349.0h.01M345.4 338.6h.01M342.0 332.3h.01M371.9 339.8h.01M327.8 352.8h.01M392.7 336.2h.01M379.4 335.0h.01M361.2 352.5h.01M335.5 331.4h.01M341.7 346.8h.01M374.9 335.3h.01M360.4 360.3h.01M363.7 327.6h.01M367.3 328.6h.01M339.0 334.8h.01M376.6 359.3h.01M386.9 353.4h.01M343.0 358.0h.01M387.9 333.0h.01M396.8 345.6h.01M360.5 352.7h.01M396.4 341.4h.01M378.8 357.8h.01M356.1 358.0h.01M362.5 338.4h.01M364.1 349.2h.01M382.9 357.1h.01M381.2 345.1h.01M361.6 340.7h.01M320.9 347.4h.01M390.8 334.2h.01M365.9 344.3h.01M356.4 330.1h.01M323.5 344.0h.01M365.5 333.6h.01M380.2 340.4h.01M366.1 339.2h.01M389.6 346.4h.01M357.7 327.8h.01M395.2 350.3h.01M393.4 334.6h.01M357.0 341.5h.01M341.0 345.9h.01M361.8 356.0h.01M378.6 330.9h.01M382.7 341.5h.01M389.4 352.3h.01M379.9 333.8h.01M361.7 358.1h.01M357.2 355.0h.01M327.9 334.3h.01M357.0 337.0h.01M333.7 351.0h.01M354.0 347.6h.01M356.1 355.5h.01M330.0 329.1h.01M367.0 356.7h.01M361.8 349.7h.01M352.5 355.1h.01M371.4 334.3h.01M393.2 337.6h.01M326.1 353.4h.01M357.2 345.4h.01M326.0 346.9h.01M356.0 340.8h.01M392.6 344.4h.01M384.1 336.8h.01M359.9 335.1h.01M375.8 353.2h.01M371.9 341.4h.01M323.9 339.8h.01M395.3 345.5h.01M371.2 359.2h.01M350.3 340.5h.01M364.6 355.0h.01M391.8 348.6h.01M344.5 346.1h.01M365.2 358.4h.01M330.3 348.7h.01M365.2 352.4h.01M360.6 355.6h.01M362.4 345.4h.01M397.5 337.5h.01M396.6 347.3h.01M349.5 356.4h.01M346.2 342.5h.01M343.2 353.4h.01M328.5 338.7h.01M338.2 353.3h.01M383.9 353.8h.01M342.6 338.6h.01M329.3 346.6h.01M337.9 343.3h.01M326.7 344.2h.01M396.9 341.5h.01M360.5 331.7h.01M334.2 341.7h.01M327.3 333.4h.01M366.6 324.9h.01M361.4 326.3h.01M338.6 345.2h.01M336.3 352.6h.01M328.6 344.8h.01M399.5 344.4h.01M340.4 350.5h.01M372.9 333.2h.01M360.4 337.0h.01M349.2 342.2h.01M320.6 342.5h.01M354.4 358.2h.01M355.9 330.9h.01M373.0 357.5h.01M386.0 329.6h.01M397.1 341.3h.01M334.8 355.7h.01M365.4 330.7h.01M369.9 338.8h.01M357.0 327.1h.01M359.9 349.7h.01M352.7 337.9h.01M344.0 360.0h.01M356.0 331.2h.01M337.2 346.4h.01M356.7 328.8h.01M343.6 336.6h.01M377.3 338.8h.01M343.8 325.3h.01M364.9 340.3h.01M323.7 338.8h.01M337.3 346.0h.01M362.1 354.2h.01M340.5 331.5h.01M370.2 334.8h.01M336.6 327.0h.01M343.7 352.8h.01M352.3 347.5h.01M371.1 358.7h.01M349.6 351.8h.01M359.3 341.9h.01M349.8 350.1h.01M347.9 348.3h.01M351.5 333.5h.01M351.1 336.7h.01M366.7 337.9h.01M361.5 335.8h.01M328.0 348.8h.01M384.0 350.6h.01M339.7 333.9h.01M356.2 329.1h.01M393.4 347.5h.01M373.8 341.8h.01M374.0 355.6h.01M339.1 333.5h.01M370.9 355.0h.01M340.5 354.4h.01M383.0 337.6h.01M398.5 342.6h.01M365.7 356.0h.01M369.2 348.1h.01M349.4 341.5h.01M361.1 327.1h.01M394.1 340.8h.01M370.8 333.8h.01M377.8 342.2h.01M392.7 333.7h.01M359.0 326.0h.01M369.5 359.3h.01M362.8 351.7h.01M390.1 352.0h.01M358.5 330.4h.01M373.3 344.9h.01M371.4 328.9h.01M350.8 360.9h.01M350.3 341.7h.01M382.4 342.2h.01M319.6 347.6h.01M377.6 338.8h.01M374.5 336.8h.01M369.2 343.7h.01M374.8 355.2h.01M353.6 360.3h.01M349.4 346.3h.01M345.2 343.2h.01M398.4 343.9h.01M369.4 346.8h.01M357.1 349.6h.01M326.5 349.2h.01M333.9 351.9h.01M374.0 345.4h.01M355.0 358.0h.01M356.3 324.4h.01M340.3 344.5h.01M342.3 352.3h.01M386.8 334.4h.01M329.0 344.2h.01M354.2 327.1h.01M383.7 336.1h.01M359.6 324.4h.01M371.7 338.8h.01M388.7 340.5h.01M390.1 332.3h.01M380.5 329.4h.01M354.1 324.1h.01M339.4 338.1h.01M328.7 336.5h.01M376.4 330.6h.01M326.1 350.8h.01M337.8 344.1h.01M391.5 339.8h.01M327.6 333.2h.01M331.2 338.6h.01M389.2 348.1h.01M352.9 357.6h.01M387.0 333.9h.01M356.6 337.0h.01M334.5 328.3h.01M324.1 339.9h.01M348.4 358.3h.01M357.0 356.7h.01M361.5 329.3h.01M345.0 337.4h.01M327.3 336.8h.01M351.1 335.2h.01M328.2 340.5h.01M341.0 340.3h.01M376.6 330.9h.01M344.3 360.8h.01M340.1 335.9h.01M337.0 349.1h.01M359.2 350.3h.01M367.3 345.7h.01M348.3 332.5h.01" stroke="#8a8ec6" stroke-width="0.7" stroke-linecap="round" fill="none" opacity="0.55"/>
<path d="M371.1 321.3h.01M368.4 319.3h.01M366.3 320.4h.01M379.1 324.0h.01M391.0 316.3h.01M376.2 319.2h.01M379.5 310.4h.01M384.8 306.5h.01M379.6 325.5h.01M385.8 308.4h.01M393.3 317.2h.01M372.4 312.1h.01M381.8 321.5h.01M379.1 324.9h.01M372.5 321.3h.01M367.9 308.4h.01M378.9 318.0h.01M398.0 314.5h.01M383.6 309.0h.01M380.7 319.9h.01M375.5 322.4h.01M395.3 319.4h.01M379.7 314.9h.01M387.7 310.1h.01M392.0 312.6h.01M383.8 309.5h.01M369.3 311.4h.01M387.5 316.5h.01M381.4 322.3h.01M370.0 321.4h.01M373.2 310.7h.01M374.0 322.5h.01M396.9 313.4h.01M369.9 308.5h.01M380.9 319.1h.01M385.8 317.9h.01M395.8 316.5h.01M385.9 314.4h.01M372.5 307.1h.01M380.8 312.1h.01M373.5 312.1h.01M380.9 316.9h.01M361.1 314.5h.01M386.1 318.3h.01M377.0 317.3h.01M363.3 317.9h.01M376.2 316.5h.01M388.7 316.8h.01M370.4 307.7h.01M373.6 315.9h.01M382.7 322.3h.01M385.3 318.1h.01M363.2 319.7h.01M381.5 325.4h.01M389.4 311.4h.01M381.4 320.2h.01M371.0 308.1h.01M385.8 312.5h.01M377.3 316.7h.01M376.3 321.1h.01M383.9 317.9h.01M391.0 315.8h.01M365.4 316.0h.01M364.9 317.3h.01M366.0 315.9h.01M394.0 319.8h.01M371.7 308.6h.01M374.7 322.3h.01M385.9 308.0h.01M391.0 317.9h.01M388.0 323.4h.01M369.8 319.6h.01M382.3 322.6h.01M376.9 308.2h.01M382.2 322.2h.01M376.6 314.4h.01M382.5 315.1h.01M374.6 313.3h.01M396.0 313.7h.01M382.4 323.0h.01M390.4 308.4h.01M371.7 309.2h.01M379.1 306.4h.01M364.4 315.3h.01M384.3 309.2h.01M383.0 323.5h.01M370.1 322.9h.01M379.8 306.5h.01M382.3 316.9h.01M395.5 312.4h.01M398.0 315.9h.01M387.5 314.9h.01M386.1 323.2h.01M380.3 312.6h.01M389.1 314.5h.01M383.8 322.3h.01M382.5 318.7h.01M383.2 316.9h.01M389.6 322.7h.01M383.3 307.4h.01M364.9 320.3h.01M393.9 322.2h.01M374.1 317.9h.01M373.5 318.9h.01M379.5 309.9h.01M388.7 316.5h.01M397.1 320.7h.01M365.0 320.7h.01M369.3 312.4h.01M378.3 308.6h.01M399.2 318.7h.01M370.6 322.6h.01M363.0 320.9h.01M382.4 318.1h.01M392.2 317.7h.01M387.7 310.5h.01M386.9 314.4h.01M388.0 315.1h.01M386.6 313.1h.01M366.4 312.1h.01M392.6 314.8h.01M382.5 314.1h.01M391.6 311.7h.01M360.8 313.7h.01M373.9 323.2h.01M370.6 313.2h.01M387.9 321.2h.01M376.8 323.6h.01M375.2 317.6h.01M372.9 307.1h.01M371.9 312.3h.01M373.6 325.2h.01M364.0 318.9h.01M396.1 320.1h.01M388.0 312.8h.01M374.4 323.6h.01M397.0 313.4h.01M386.7 316.5h.01M389.7 311.9h.01M392.8 314.0h.01M384.8 312.0h.01M393.4 314.5h.01M388.9 316.1h.01M391.2 319.2h.01M399.0 313.4h.01M391.5 313.2h.01M382.1 307.4h.01M389.7 307.4h.01M388.7 308.4h.01M376.6 319.8h.01M370.6 318.7h.01M380.1 312.0h.01M385.0 324.2h.01M385.6 316.7h.01M382.8 316.0h.01M394.0 321.0h.01M379.2 319.2h.01M368.0 316.1h.01M385.1 316.1h.01M379.7 322.5h.01" stroke="#8a8ec6" stroke-width="0.7" stroke-linecap="round" fill="none" opacity="0.5"/>
<path d="M320.1 321.3h.01M359.6 321.2h.01M347.4 317.0h.01M340.1 320.3h.01M362.1 322.6h.01M344.7 319.0h.01M329.2 322.0h.01M360.5 317.2h.01M322.2 325.5h.01M368.3 324.1h.01M352.7 320.4h.01M339.2 317.7h.01M357.3 321.2h.01M319.5 320.6h.01M335.0 319.4h.01M368.6 324.9h.01M317.4 323.0h.01M360.9 326.2h.01M355.4 316.7h.01M362.0 322.4h.01M368.0 323.7h.01M328.2 326.7h.01M327.6 325.7h.01M354.2 319.8h.01M319.3 319.9h.01M328.4 321.4h.01M342.3 327.3h.01M352.7 326.4h.01M325.4 320.5h.01M360.6 325.5h.01M358.7 320.3h.01M331.8 327.0h.01M332.1 320.5h.01M369.3 322.3h.01M333.9 325.3h.01M341.9 326.7h.01M342.9 318.7h.01M369.8 324.7h.01M348.4 321.5h.01M323.7 320.0h.01M325.4 324.9h.01M365.8 320.8h.01M335.4 323.7h.01M344.9 324.3h.01M354.9 323.8h.01M356.2 318.3h.01M354.1 316.6h.01M347.3 320.8h.01M352.6 321.2h.01M348.4 316.6h.01M335.2 318.8h.01M352.3 322.8h.01M336.0 319.8h.01M330.9 321.4h.01M352.9 324.8h.01M341.9 317.9h.01M329.7 324.6h.01M326.0 320.6h.01M319.1 324.0h.01M345.1 319.1h.01M339.9 324.4h.01M341.9 322.8h.01M344.3 317.5h.01M321.6 324.6h.01M334.9 326.0h.01M363.9 320.1h.01M332.1 319.6h.01M369.3 321.9h.01M339.5 325.4h.01M328.1 319.7h.01M332.9 321.6h.01M324.1 319.7h.01M346.8 318.0h.01M326.3 323.4h.01M326.2 321.1h.01M359.3 322.2h.01M370.4 321.6h.01M321.2 323.1h.01M348.5 325.0h.01M321.7 321.4h.01" stroke="#8a8ec6" stroke-width="0.7" stroke-linecap="round" fill="none" opacity="0.4"/>
<path d="M320 342 C 322 330, 345 330, 370 326 C 378 312, 396 306, 397 322 C 399 340, 398 360, 390 362 C 375 362, 350 356, 330 352 C 322 350, 319 347, 320 342 Z" fill="#eaebf6" fill-opacity="0.5" stroke="#8a8ec6" stroke-width="0.5"/>
<path d="M323 342 C 326 334, 348 334, 372 330 C 380 316, 394 310, 395 324 C 396 340, 396 356, 389 359 C 376 359, 352 353, 333 349 C 326 348, 323 346, 323 342 Z" fill="#e6e7f4" fill-opacity="0.45" stroke="#8a8ec6" stroke-width="0.5"/>
<path d="M334 342 C 340 337, 355 337, 374 333 C 381 320, 392 314, 393 326 C 394 340, 393 352, 388 355 C 378 355, 358 350, 342 346 C 337 345, 334 344, 334 342 Z" fill="#e2e3f2" fill-opacity="0.45" stroke="#8a8ec6" stroke-width="0.5"/>
<path d="M348 342 C 355 339, 365 338, 376 335 C 382 324, 390 318, 391 328 C 392 340, 391 349, 387 351 C 380 351, 366 347, 352 344 Z" fill="#e6e7f4" fill-opacity="0.45" stroke="#8a8ec6" stroke-width="0.5"/>
<path d="M362 342 C 368 340, 374 339, 380 336 C 384 328, 388 324, 389 331 C 390 340, 389 346, 386 348 C 380 348, 372 345, 362 342 Z" fill="#f2f2fa" fill-opacity="0.6" stroke="#8a8ec6" stroke-width="0.5"/>
<path d="M378 330 C 378 316, 383 309.4, 391 309.4 C 397 309.4, 399.6 314, 399.4 324 C 399.4 340, 399 352, 396 360 C 394 364, 388 364, 385 359 C 381 352, 378 344, 378 330 Z" fill="#bfc1e0" fill-opacity="0.9" stroke="#8a8ec6" stroke-width="0.5"/>
<path d="M381 330 C 381 318, 385 312, 391 312 C 396 312, 397.8 316, 397.6 324 C 397.6 340, 397 350, 395 357 C 393 361, 389 361, 387 356 C 384 350, 381 342, 381 330 Z" fill="#a9acd8" fill-opacity="0.9" stroke="#8a8ec6" stroke-width="0.45"/>
<path d="M384.5 330 C 384.5 320, 387 315, 391 315 C 395 315, 396 318, 395.8 324 C 395.8 338, 395.4 348, 393.6 354 C 392 357, 390 357, 388.6 353 C 386 346, 384.5 340, 384.5 330 Z" fill="#9296cd" fill-opacity="0.9" stroke="#8a8ec6" stroke-width="0.4"/>
<ellipse cx="394.20" cy="316.00" rx="3.00" ry="4.60" fill="#7f84c6" fill-opacity="0.9" stroke="none" stroke-width="0" opacity="1"/>
<ellipse cx="393.60" cy="352.00" rx="2.60" ry="5.00" fill="#8d91cc" fill-opacity="0.8" stroke="none" stroke-width="0" opacity="1"/>
<ellipse cx="389.80" cy="336.00" rx="0.90" ry="16.50" fill="#f6f6fc" fill-opacity="1" stroke="none" stroke-width="0" opacity="1"/>
<ellipse cx="326.60" cy="342.20" rx="7.80" ry="6.80" fill="#cfd1ea" fill-opacity="1" stroke="#8a8ec6" stroke-width="0.4" opacity="1"/>
<ellipse cx="326.60" cy="342.20" rx="6.40" ry="5.60" fill="#a9acda" fill-opacity="1" stroke="#8a8ec6" stroke-width="0.4" opacity="1"/>
<ellipse cx="326.60" cy="342.20" rx="5.20" ry="4.60" fill="#7b81c8" fill-opacity="1" stroke="#6a70ba" stroke-width="0.4" opacity="1"/>
<ellipse cx="326.60" cy="342.20" rx="4.00" ry="3.50" fill="#5058b2" fill-opacity="1" stroke="#4a52a8" stroke-width="0.4" opacity="1"/>
<ellipse cx="326.60" cy="342.20" rx="2.60" ry="2.30" fill="#fff" fill-opacity="1" stroke="none" stroke-width="0" opacity="1"/>
</g>
<rect x="359.6" y="296.8" width="42.0" height="27.0" fill="none" stroke="#c02a3a" stroke-width="1.5" stroke-dasharray="1.2 1.3"/>
<rect x="317.2" y="325.8" width="83.2" height="35.6" fill="none" stroke="#15151d" stroke-width="1.5" stroke-dasharray="1.2 1.3"/>
<rect x="310.00" y="277.60" width="96.20" height="96.20" fill="none" stroke="#262626" stroke-width="1.3"/>
<line x1="308.85" y1="281.60" x2="308.85" y2="373.80" stroke="#444" stroke-width="1.5" stroke-dasharray="0.6 3.242"/>
<line x1="310.00" y1="374.95" x2="403.20" y2="374.95" stroke="#444" stroke-width="1.5" stroke-dasharray="0.6 3.283"/>
<text transform="translate(327.00 289.40)" font-size="6.6" font-weight="bold" text-anchor="start" fill="#9c2a2e" >Inflammatory Monocytes</text>
<text transform="translate(320.00 370.80)" font-size="6.6" font-weight="bold" text-anchor="start" fill="#7480a2" >Resident Monocytes</text>
<text transform="translate(292.80 289.90)" font-size="7.5" font-weight="normal" text-anchor="start" fill="#161616"  stroke="#161616" stroke-width="0.2">10<tspan font-size="4.4" dy="-2.6">5</tspan></text>
<line x1="307.00" y1="287.00" x2="310.00" y2="287.00" stroke="#111" stroke-width="0.8"/>
<text transform="translate(292.80 307.90)" font-size="7.5" font-weight="normal" text-anchor="start" fill="#161616"  stroke="#161616" stroke-width="0.2">10<tspan font-size="4.4" dy="-2.6">4</tspan></text>
<line x1="307.00" y1="305.00" x2="310.00" y2="305.00" stroke="#111" stroke-width="0.8"/>
<text transform="translate(292.80 329.90)" font-size="7.5" font-weight="normal" text-anchor="start" fill="#161616"  stroke="#161616" stroke-width="0.2">10<tspan font-size="4.4" dy="-2.6">3</tspan></text>
<line x1="307.00" y1="327.00" x2="310.00" y2="327.00" stroke="#111" stroke-width="0.8"/>
<text transform="translate(299.00 342.20)" font-size="7.5" font-weight="normal" text-anchor="start" fill="#161616"  stroke="#161616" stroke-width="0.2">0</text>
<line x1="307.00" y1="339.60" x2="310.00" y2="339.60" stroke="#111" stroke-width="0.8"/>
<text transform="translate(302.80 374.80) rotate(-90)" font-size="7" font-weight="bold" text-anchor="start" fill="#000"  stroke="#000" stroke-width="0.34">CD115</text>
<text transform="translate(300.40 385.20)" font-size="7" font-weight="bold" text-anchor="start" fill="#000"  stroke="#000" stroke-width="0.34">Ly6G / Ly6C</text>
<text transform="translate(345.80 385.20)" font-size="7.5" font-weight="normal" text-anchor="start" fill="#161616"  stroke="#161616" stroke-width="0.2">10<tspan font-size="4.4" dy="-2.6">3</tspan></text>
<text transform="translate(369.00 385.20)" font-size="7.5" font-weight="normal" text-anchor="start" fill="#161616"  stroke="#161616" stroke-width="0.2">10<tspan font-size="4.4" dy="-2.6">4</tspan></text>
<text transform="translate(392.00 385.20)" font-size="7.5" font-weight="normal" text-anchor="start" fill="#161616"  stroke="#161616" stroke-width="0.2">10<tspan font-size="4.4" dy="-2.6">5</tspan></text>
<text transform="translate(7.20 409.00) scale(1.12 1)" font-size="12.6" font-weight="bold" text-anchor="start" fill="#000" stroke="#000" stroke-width="0.3">B</text>
<text transform="translate(268.40 409.00) scale(1.04 1)" font-size="12.6" font-weight="bold" text-anchor="start" fill="#000" stroke="#000" stroke-width="0.3">C</text>
<line x1="36.80" y1="425.4" x2="36.80" y2="447.4" stroke="#000" stroke-width="1.3"/>
<line x1="36.80" y1="453.2" x2="36.80" y2="538.6" stroke="#000" stroke-width="1.3"/>
<line x1="36.30" y1="538.0" x2="251.50" y2="538.0" stroke="#000" stroke-width="1.3"/>
<line x1="33.40" y1="447.2" x2="39.40" y2="447.2" stroke="#000" stroke-width="1.0"/>
<line x1="33.40" y1="453.6" x2="39.40" y2="453.6" stroke="#000" stroke-width="1.0"/>
<line x1="32.40" y1="538.00" x2="36.80" y2="538.00" stroke="#000" stroke-width="1.0"/>
<text transform="translate(29.20 540.70) scale(0.86 1)" font-size="7.6" font-weight="normal" text-anchor="end" fill="#0c0c0c"  stroke="#0c0c0c" stroke-width="0.24">0</text>
<line x1="32.40" y1="523.95" x2="36.80" y2="523.95" stroke="#000" stroke-width="1.0"/>
<text transform="translate(29.20 526.65) scale(0.86 1)" font-size="7.6" font-weight="normal" text-anchor="end" fill="#0c0c0c"  stroke="#0c0c0c" stroke-width="0.24">5</text>
<line x1="32.40" y1="509.90" x2="36.80" y2="509.90" stroke="#000" stroke-width="1.0"/>
<text transform="translate(29.20 512.60) scale(0.86 1)" font-size="7.6" font-weight="normal" text-anchor="end" fill="#0c0c0c"  stroke="#0c0c0c" stroke-width="0.24">10</text>
<line x1="32.40" y1="495.85" x2="36.80" y2="495.85" stroke="#000" stroke-width="1.0"/>
<text transform="translate(29.20 498.55) scale(0.86 1)" font-size="7.6" font-weight="normal" text-anchor="end" fill="#0c0c0c"  stroke="#0c0c0c" stroke-width="0.24">15</text>
<line x1="32.40" y1="481.80" x2="36.80" y2="481.80" stroke="#000" stroke-width="1.0"/>
<text transform="translate(29.20 484.50) scale(0.86 1)" font-size="7.6" font-weight="normal" text-anchor="end" fill="#0c0c0c"  stroke="#0c0c0c" stroke-width="0.24">20</text>
<line x1="32.40" y1="467.75" x2="36.80" y2="467.75" stroke="#000" stroke-width="1.0"/>
<text transform="translate(29.20 470.45) scale(0.86 1)" font-size="7.6" font-weight="normal" text-anchor="end" fill="#0c0c0c"  stroke="#0c0c0c" stroke-width="0.24">25</text>
<line x1="32.40" y1="453.70" x2="36.80" y2="453.70" stroke="#000" stroke-width="1.0"/>
<text transform="translate(29.20 456.40) scale(0.86 1)" font-size="7.6" font-weight="normal" text-anchor="end" fill="#0c0c0c"  stroke="#0c0c0c" stroke-width="0.24">30</text>
<line x1="32.40" y1="447.00" x2="36.80" y2="447.00" stroke="#000" stroke-width="1.0"/>
<text transform="translate(29.20 449.70) scale(0.86 1)" font-size="7.6" font-weight="normal" text-anchor="end" fill="#0c0c0c"  stroke="#0c0c0c" stroke-width="0.24">40</text>
<line x1="32.40" y1="436.40" x2="36.80" y2="436.40" stroke="#000" stroke-width="1.0"/>
<text transform="translate(29.20 439.10) scale(0.86 1)" font-size="7.6" font-weight="normal" text-anchor="end" fill="#0c0c0c"  stroke="#0c0c0c" stroke-width="0.24">50</text>
<line x1="32.40" y1="425.80" x2="36.80" y2="425.80" stroke="#000" stroke-width="1.0"/>
<text transform="translate(29.20 428.50) scale(0.86 1)" font-size="7.6" font-weight="normal" text-anchor="end" fill="#0c0c0c"  stroke="#0c0c0c" stroke-width="0.24">60</text>
<text transform="translate(16.90 481.40) rotate(-90) scale(0.77 1)" font-size="9.5" font-weight="normal" text-anchor="middle" fill="#0c0c0c"  stroke="#0c0c0c" stroke-width="0.24">% of Non-CD19/TCR β/Ter119</text>
<text transform="translate(53.80 417.20) scale(1.049 1)" font-size="9" font-weight="normal" text-anchor="start" fill="#0c0c0c"  stroke="#0c0c0c" stroke-width="0.24">Splenic Cell Subsets, 3 hr after Transfusion</text>
<rect x="119.40" y="431.10" width="6.2" height="3.0" fill="#b5082e"/>
<text transform="translate(129.00 435.20) scale(0.95 1)" font-size="7.3" font-weight="normal" text-anchor="start" fill="#0c0c0c"  stroke="#0c0c0c" stroke-width="0.24">PBS</text>
<rect x="119.40" y="441.65" width="6.2" height="3.0" fill="#1f4588"/>
<text transform="translate(129.00 445.75) scale(0.95 1)" font-size="7.3" font-weight="normal" text-anchor="start" fill="#0c0c0c"  stroke="#0c0c0c" stroke-width="0.24">KELIg</text>
<rect x="119.40" y="452.20" width="6.2" height="3.0" fill="#6cb33f"/>
<text transform="translate(129.00 456.30) scale(0.95 1)" font-size="7.3" font-weight="normal" text-anchor="start" fill="#0c0c0c"  stroke="#0c0c0c" stroke-width="0.24">KELIg Poly(I:C)</text>
<line x1="50.30" y1="538" x2="50.30" y2="541.4" stroke="#000" stroke-width="0.9"/>
<line x1="42.10" y1="532.38" x2="42.10" y2="528.73" stroke="#111" stroke-width="0.9"/>
<line x1="40.50" y1="528.73" x2="43.70" y2="528.73" stroke="#111" stroke-width="0.9"/>
<rect x="39.20" y="532.38" width="5.8" height="5.62" fill="#b5082e"/>
<line x1="50.45" y1="530.69" x2="50.45" y2="527.32" stroke="#111" stroke-width="0.9"/>
<line x1="48.85" y1="527.32" x2="52.05" y2="527.32" stroke="#111" stroke-width="0.9"/>
<rect x="47.55" y="530.69" width="5.8" height="7.31" fill="#1f4588"/>
<line x1="58.80" y1="535.47" x2="58.80" y2="534.35" stroke="#111" stroke-width="0.9"/>
<line x1="57.20" y1="534.35" x2="60.40" y2="534.35" stroke="#111" stroke-width="0.9"/>
<rect x="55.90" y="535.47" width="5.8" height="2.53" fill="#6cb33f"/>
<text transform="translate(54.40 548.90) rotate(-45) scale(0.95 1)" font-size="7.4" font-weight="normal" text-anchor="end" fill="#0c0c0c"  stroke="#0c0c0c" stroke-width="0.24">RPMs</text>
<line x1="81.30" y1="538" x2="81.30" y2="541.4" stroke="#000" stroke-width="0.9"/>
<line x1="73.10" y1="535.47" x2="73.10" y2="534.63" stroke="#111" stroke-width="0.9"/>
<line x1="71.50" y1="534.63" x2="74.70" y2="534.63" stroke="#111" stroke-width="0.9"/>
<rect x="70.20" y="535.47" width="5.8" height="2.53" fill="#b5082e"/>
<line x1="81.45" y1="535.47" x2="81.45" y2="534.63" stroke="#111" stroke-width="0.9"/>
<line x1="79.85" y1="534.63" x2="83.05" y2="534.63" stroke="#111" stroke-width="0.9"/>
<rect x="78.55" y="535.47" width="5.8" height="2.53" fill="#1f4588"/>
<line x1="89.80" y1="537.16" x2="89.80" y2="536.88" stroke="#111" stroke-width="0.9"/>
<line x1="88.20" y1="536.88" x2="91.40" y2="536.88" stroke="#111" stroke-width="0.9"/>
<rect x="86.90" y="537.16" width="5.8" height="0.84" fill="#6cb33f"/>
<text transform="translate(85.40 548.90) rotate(-45) scale(0.95 1)" font-size="7.4" font-weight="normal" text-anchor="end" fill="#0c0c0c"  stroke="#0c0c0c" stroke-width="0.24">CD8a DCs</text>
<line x1="112.30" y1="538" x2="112.30" y2="541.4" stroke="#000" stroke-width="0.9"/>
<line x1="104.10" y1="526.20" x2="104.10" y2="525.07" stroke="#111" stroke-width="0.9"/>
<line x1="102.50" y1="525.07" x2="105.70" y2="525.07" stroke="#111" stroke-width="0.9"/>
<rect x="101.20" y="526.20" width="5.8" height="11.80" fill="#b5082e"/>
<line x1="112.45" y1="527.04" x2="112.45" y2="526.20" stroke="#111" stroke-width="0.9"/>
<line x1="110.85" y1="526.20" x2="114.05" y2="526.20" stroke="#111" stroke-width="0.9"/>
<rect x="109.55" y="527.04" width="5.8" height="10.96" fill="#1f4588"/>
<line x1="120.80" y1="531.26" x2="120.80" y2="530.41" stroke="#111" stroke-width="0.9"/>
<line x1="119.20" y1="530.41" x2="122.40" y2="530.41" stroke="#111" stroke-width="0.9"/>
<rect x="117.90" y="531.26" width="5.8" height="6.74" fill="#6cb33f"/>
<text transform="translate(116.40 548.90) rotate(-45) scale(0.95 1)" font-size="7.4" font-weight="normal" text-anchor="end" fill="#0c0c0c"  stroke="#0c0c0c" stroke-width="0.24">CD11b DCs</text>
<line x1="143.30" y1="538" x2="143.30" y2="541.4" stroke="#000" stroke-width="0.9"/>
<line x1="135.10" y1="535.47" x2="135.10" y2="534.63" stroke="#111" stroke-width="0.9"/>
<line x1="133.50" y1="534.63" x2="136.70" y2="534.63" stroke="#111" stroke-width="0.9"/>
<rect x="132.20" y="535.47" width="5.8" height="2.53" fill="#b5082e"/>
<line x1="143.45" y1="535.47" x2="143.45" y2="534.63" stroke="#111" stroke-width="0.9"/>
<line x1="141.85" y1="534.63" x2="145.05" y2="534.63" stroke="#111" stroke-width="0.9"/>
<rect x="140.55" y="535.47" width="5.8" height="2.53" fill="#1f4588"/>
<line x1="151.80" y1="536.88" x2="151.80" y2="536.60" stroke="#111" stroke-width="0.9"/>
<line x1="150.20" y1="536.60" x2="153.40" y2="536.60" stroke="#111" stroke-width="0.9"/>
<rect x="148.90" y="536.88" width="5.8" height="1.12" fill="#6cb33f"/>
<text transform="translate(147.40 548.90) rotate(-45) scale(0.95 1)" font-size="7.4" font-weight="normal" text-anchor="end" fill="#0c0c0c"  stroke="#0c0c0c" stroke-width="0.24">pDCs</text>
<line x1="174.30" y1="538" x2="174.30" y2="541.4" stroke="#000" stroke-width="0.9"/>
<line x1="166.10" y1="535.47" x2="166.10" y2="534.35" stroke="#111" stroke-width="0.9"/>
<line x1="164.50" y1="534.35" x2="167.70" y2="534.35" stroke="#111" stroke-width="0.9"/>
<rect x="163.20" y="535.47" width="5.8" height="2.53" fill="#b5082e"/>
<line x1="174.45" y1="537.16" x2="174.45" y2="536.88" stroke="#111" stroke-width="0.9"/>
<line x1="172.85" y1="536.88" x2="176.05" y2="536.88" stroke="#111" stroke-width="0.9"/>
<rect x="171.55" y="537.16" width="5.8" height="0.84" fill="#1f4588"/>
<line x1="182.80" y1="537.44" x2="182.80" y2="537.16" stroke="#111" stroke-width="0.9"/>
<line x1="181.20" y1="537.16" x2="184.40" y2="537.16" stroke="#111" stroke-width="0.9"/>
<rect x="179.90" y="537.44" width="5.8" height="0.56" fill="#6cb33f"/>
<line x1="205.30" y1="538" x2="205.30" y2="541.4" stroke="#000" stroke-width="0.9"/>
<line x1="197.10" y1="518.05" x2="197.10" y2="516.92" stroke="#111" stroke-width="0.9"/>
<line x1="195.50" y1="516.92" x2="198.70" y2="516.92" stroke="#111" stroke-width="0.9"/>
<rect x="194.20" y="518.05" width="5.8" height="19.95" fill="#b5082e"/>
<line x1="205.45" y1="528.45" x2="205.45" y2="526.48" stroke="#111" stroke-width="0.9"/>
<line x1="203.85" y1="526.48" x2="207.05" y2="526.48" stroke="#111" stroke-width="0.9"/>
<rect x="202.55" y="528.45" width="5.8" height="9.55" fill="#1f4588"/>
<line x1="213.80" y1="520.02" x2="213.80" y2="518.61" stroke="#111" stroke-width="0.9"/>
<line x1="212.20" y1="518.61" x2="215.40" y2="518.61" stroke="#111" stroke-width="0.9"/>
<rect x="210.90" y="520.02" width="5.8" height="17.98" fill="#6cb33f"/>
<line x1="236.30" y1="538" x2="236.30" y2="541.4" stroke="#000" stroke-width="0.9"/>
<line x1="228.10" y1="475.34" x2="228.10" y2="472.81" stroke="#111" stroke-width="0.9"/>
<line x1="226.50" y1="472.81" x2="229.70" y2="472.81" stroke="#111" stroke-width="0.9"/>
<rect x="225.20" y="475.34" width="5.8" height="62.66" fill="#b5082e"/>
<line x1="236.45" y1="468.87" x2="236.45" y2="456.51" stroke="#111" stroke-width="0.9"/>
<line x1="234.85" y1="456.51" x2="238.05" y2="456.51" stroke="#111" stroke-width="0.9"/>
<rect x="233.55" y="468.87" width="5.8" height="69.13" fill="#1f4588"/>
<line x1="244.80" y1="498.38" x2="244.80" y2="495.29" stroke="#111" stroke-width="0.9"/>
<line x1="243.20" y1="495.29" x2="246.40" y2="495.29" stroke="#111" stroke-width="0.9"/>
<rect x="241.90" y="498.38" width="5.8" height="39.62" fill="#6cb33f"/>
<text transform="translate(240.40 548.90) rotate(-45) scale(0.95 1)" font-size="7.4" font-weight="normal" text-anchor="end" fill="#0c0c0c"  stroke="#0c0c0c" stroke-width="0.24">Neutrophils</text>
<text transform="translate(177.20 548.90) rotate(-45) scale(0.95 1)" font-size="7.4" font-weight="normal" text-anchor="end" fill="#0c0c0c"  stroke="#0c0c0c" stroke-width="0.24">Inflammatory</text>
<text transform="translate(184.00 554.30) rotate(-45) scale(0.95 1)" font-size="7.4" font-weight="normal" text-anchor="end" fill="#0c0c0c"  stroke="#0c0c0c" stroke-width="0.24">Monocytes</text>
<text transform="translate(208.20 548.90) rotate(-45) scale(0.95 1)" font-size="7.4" font-weight="normal" text-anchor="end" fill="#0c0c0c"  stroke="#0c0c0c" stroke-width="0.24">Resident</text>
<text transform="translate(215.00 554.30) rotate(-45) scale(0.95 1)" font-size="7.4" font-weight="normal" text-anchor="end" fill="#0c0c0c"  stroke="#0c0c0c" stroke-width="0.24">Monocytes</text>
<path d="M82.12 530.60 V528.20 H89.12 V530.60" fill="none" stroke="#111" stroke-width="1.2"/>
<text transform="translate(85.62 528.80)" font-size="7.6" font-weight="normal" text-anchor="middle" fill="#0c0c0c"  stroke="#0c0c0c" stroke-width="0.24">*</text>
<path d="M113.12 521.60 V519.20 H120.12 V521.60" fill="none" stroke="#111" stroke-width="1.2"/>
<text transform="translate(116.62 519.80)" font-size="7.6" font-weight="normal" text-anchor="middle" fill="#0c0c0c"  stroke="#0c0c0c" stroke-width="0.24">*</text>
<path d="M144.13 530.60 V528.20 H151.13 V530.60" fill="none" stroke="#111" stroke-width="1.2"/>
<text transform="translate(147.63 528.80)" font-size="7.6" font-weight="normal" text-anchor="middle" fill="#0c0c0c"  stroke="#0c0c0c" stroke-width="0.24">*</text>
<path d="M206.13 516.00 V513.60 H213.13 V516.00" fill="none" stroke="#111" stroke-width="1.2"/>
<text transform="translate(209.63 514.20)" font-size="7.6" font-weight="normal" text-anchor="middle" fill="#0c0c0c"  stroke="#0c0c0c" stroke-width="0.24">*</text>
<path d="M237.13 451.20 V448.80 H244.13 V451.20" fill="none" stroke="#111" stroke-width="1.2"/>
<text transform="translate(240.63 449.40)" font-size="7.6" font-weight="normal" text-anchor="middle" fill="#0c0c0c"  stroke="#0c0c0c" stroke-width="0.24">*</text>
<line x1="297.80" y1="425.4" x2="297.80" y2="447.4" stroke="#000" stroke-width="1.3"/>
<line x1="297.80" y1="453.2" x2="297.80" y2="538.6" stroke="#000" stroke-width="1.3"/>
<line x1="297.30" y1="538.0" x2="512.50" y2="538.0" stroke="#000" stroke-width="1.3"/>
<line x1="294.40" y1="447.2" x2="300.40" y2="447.2" stroke="#000" stroke-width="1.0"/>
<line x1="294.40" y1="453.6" x2="300.40" y2="453.6" stroke="#000" stroke-width="1.0"/>
<line x1="293.40" y1="538.00" x2="297.80" y2="538.00" stroke="#000" stroke-width="1.0"/>
<text transform="translate(290.20 540.70) scale(0.86 1)" font-size="7.6" font-weight="normal" text-anchor="end" fill="#0c0c0c"  stroke="#0c0c0c" stroke-width="0.24">0</text>
<line x1="293.40" y1="523.95" x2="297.80" y2="523.95" stroke="#000" stroke-width="1.0"/>
<text transform="translate(290.20 526.65) scale(0.86 1)" font-size="7.6" font-weight="normal" text-anchor="end" fill="#0c0c0c"  stroke="#0c0c0c" stroke-width="0.24">5</text>
<line x1="293.40" y1="509.90" x2="297.80" y2="509.90" stroke="#000" stroke-width="1.0"/>
<text transform="translate(290.20 512.60) scale(0.86 1)" font-size="7.6" font-weight="normal" text-anchor="end" fill="#0c0c0c"  stroke="#0c0c0c" stroke-width="0.24">10</text>
<line x1="293.40" y1="495.85" x2="297.80" y2="495.85" stroke="#000" stroke-width="1.0"/>
<text transform="translate(290.20 498.55) scale(0.86 1)" font-size="7.6" font-weight="normal" text-anchor="end" fill="#0c0c0c"  stroke="#0c0c0c" stroke-width="0.24">15</text>
<line x1="293.40" y1="481.80" x2="297.80" y2="481.80" stroke="#000" stroke-width="1.0"/>
<text transform="translate(290.20 484.50) scale(0.86 1)" font-size="7.6" font-weight="normal" text-anchor="end" fill="#0c0c0c"  stroke="#0c0c0c" stroke-width="0.24">20</text>
<line x1="293.40" y1="467.75" x2="297.80" y2="467.75" stroke="#000" stroke-width="1.0"/>
<text transform="translate(290.20 470.45) scale(0.86 1)" font-size="7.6" font-weight="normal" text-anchor="end" fill="#0c0c0c"  stroke="#0c0c0c" stroke-width="0.24">25</text>
<line x1="293.40" y1="453.70" x2="297.80" y2="453.70" stroke="#000" stroke-width="1.0"/>
<text transform="translate(290.20 456.40) scale(0.86 1)" font-size="7.6" font-weight="normal" text-anchor="end" fill="#0c0c0c"  stroke="#0c0c0c" stroke-width="0.24">30</text>
<line x1="293.40" y1="447.00" x2="297.80" y2="447.00" stroke="#000" stroke-width="1.0"/>
<text transform="translate(290.20 449.70) scale(0.86 1)" font-size="7.6" font-weight="normal" text-anchor="end" fill="#0c0c0c"  stroke="#0c0c0c" stroke-width="0.24">40</text>
<line x1="293.40" y1="436.40" x2="297.80" y2="436.40" stroke="#000" stroke-width="1.0"/>
<text transform="translate(290.20 439.10) scale(0.86 1)" font-size="7.6" font-weight="normal" text-anchor="end" fill="#0c0c0c"  stroke="#0c0c0c" stroke-width="0.24">50</text>
<line x1="293.40" y1="425.80" x2="297.80" y2="425.80" stroke="#000" stroke-width="1.0"/>
<text transform="translate(290.20 428.50) scale(0.86 1)" font-size="7.6" font-weight="normal" text-anchor="end" fill="#0c0c0c"  stroke="#0c0c0c" stroke-width="0.24">60</text>
<text transform="translate(277.90 481.40) rotate(-90) scale(0.77 1)" font-size="9.5" font-weight="normal" text-anchor="middle" fill="#0c0c0c"  stroke="#0c0c0c" stroke-width="0.24">% of Non-CD19/TCR β/Ter119</text>
<text transform="translate(313.60 417.20) scale(1.036 1)" font-size="9" font-weight="normal" text-anchor="start" fill="#0c0c0c"  stroke="#0c0c0c" stroke-width="0.24">Splenic Cell Subsets, 16 hr after Transfusion</text>
<rect x="380.40" y="431.10" width="6.2" height="3.0" fill="#b5082e"/>
<text transform="translate(390.00 435.20) scale(0.95 1)" font-size="7.3" font-weight="normal" text-anchor="start" fill="#0c0c0c"  stroke="#0c0c0c" stroke-width="0.24">PBS</text>
<rect x="380.40" y="441.65" width="6.2" height="3.0" fill="#1f4588"/>
<text transform="translate(390.00 445.75) scale(0.95 1)" font-size="7.3" font-weight="normal" text-anchor="start" fill="#0c0c0c"  stroke="#0c0c0c" stroke-width="0.24">KELIg</text>
<rect x="380.40" y="452.20" width="6.2" height="3.0" fill="#6cb33f"/>
<text transform="translate(390.00 456.30) scale(0.95 1)" font-size="7.3" font-weight="normal" text-anchor="start" fill="#0c0c0c"  stroke="#0c0c0c" stroke-width="0.24">KELIg Poly(I:C)</text>
<line x1="311.30" y1="538" x2="311.30" y2="541.4" stroke="#000" stroke-width="0.9"/>
<line x1="303.10" y1="530.98" x2="303.10" y2="527.04" stroke="#111" stroke-width="0.9"/>
<line x1="301.50" y1="527.04" x2="304.70" y2="527.04" stroke="#111" stroke-width="0.9"/>
<rect x="300.20" y="530.98" width="5.8" height="7.02" fill="#b5082e"/>
<line x1="311.45" y1="528.73" x2="311.45" y2="524.23" stroke="#111" stroke-width="0.9"/>
<line x1="309.85" y1="524.23" x2="313.05" y2="524.23" stroke="#111" stroke-width="0.9"/>
<rect x="308.55" y="528.73" width="5.8" height="9.27" fill="#1f4588"/>
<line x1="319.80" y1="533.50" x2="319.80" y2="532.94" stroke="#111" stroke-width="0.9"/>
<line x1="318.20" y1="532.94" x2="321.40" y2="532.94" stroke="#111" stroke-width="0.9"/>
<rect x="316.90" y="533.50" width="5.8" height="4.50" fill="#6cb33f"/>
<text transform="translate(315.40 548.90) rotate(-45) scale(0.95 1)" font-size="7.4" font-weight="normal" text-anchor="end" fill="#0c0c0c"  stroke="#0c0c0c" stroke-width="0.24">RPMs</text>
<line x1="342.30" y1="538" x2="342.30" y2="541.4" stroke="#000" stroke-width="0.9"/>
<line x1="334.10" y1="536.03" x2="334.10" y2="535.19" stroke="#111" stroke-width="0.9"/>
<line x1="332.50" y1="535.19" x2="335.70" y2="535.19" stroke="#111" stroke-width="0.9"/>
<rect x="331.20" y="536.03" width="5.8" height="1.97" fill="#b5082e"/>
<line x1="342.45" y1="536.88" x2="342.45" y2="536.31" stroke="#111" stroke-width="0.9"/>
<line x1="340.85" y1="536.31" x2="344.05" y2="536.31" stroke="#111" stroke-width="0.9"/>
<rect x="339.55" y="536.88" width="5.8" height="1.12" fill="#1f4588"/>
<line x1="350.80" y1="537.72" x2="350.80" y2="537.44" stroke="#111" stroke-width="0.9"/>
<line x1="349.20" y1="537.44" x2="352.40" y2="537.44" stroke="#111" stroke-width="0.9"/>
<rect x="347.90" y="537.72" width="5.8" height="0.30" fill="#6cb33f"/>
<text transform="translate(346.40 548.90) rotate(-45) scale(0.95 1)" font-size="7.4" font-weight="normal" text-anchor="end" fill="#0c0c0c"  stroke="#0c0c0c" stroke-width="0.24">CD8a DCs</text>
<line x1="373.30" y1="538" x2="373.30" y2="541.4" stroke="#000" stroke-width="0.9"/>
<line x1="365.10" y1="527.88" x2="365.10" y2="524.51" stroke="#111" stroke-width="0.9"/>
<line x1="363.50" y1="524.51" x2="366.70" y2="524.51" stroke="#111" stroke-width="0.9"/>
<rect x="362.20" y="527.88" width="5.8" height="10.12" fill="#b5082e"/>
<line x1="373.45" y1="528.16" x2="373.45" y2="525.36" stroke="#111" stroke-width="0.9"/>
<line x1="371.85" y1="525.36" x2="375.05" y2="525.36" stroke="#111" stroke-width="0.9"/>
<rect x="370.55" y="528.16" width="5.8" height="9.84" fill="#1f4588"/>
<line x1="381.80" y1="534.91" x2="381.80" y2="534.35" stroke="#111" stroke-width="0.9"/>
<line x1="380.20" y1="534.35" x2="383.40" y2="534.35" stroke="#111" stroke-width="0.9"/>
<rect x="378.90" y="534.91" width="5.8" height="3.09" fill="#6cb33f"/>
<text transform="translate(377.40 548.90) rotate(-45) scale(0.95 1)" font-size="7.4" font-weight="normal" text-anchor="end" fill="#0c0c0c"  stroke="#0c0c0c" stroke-width="0.24">CD11b DCs</text>
<line x1="404.30" y1="538" x2="404.30" y2="541.4" stroke="#000" stroke-width="0.9"/>
<line x1="396.10" y1="534.07" x2="396.10" y2="532.66" stroke="#111" stroke-width="0.9"/>
<line x1="394.50" y1="532.66" x2="397.70" y2="532.66" stroke="#111" stroke-width="0.9"/>
<rect x="393.20" y="534.07" width="5.8" height="3.93" fill="#b5082e"/>
<line x1="404.45" y1="532.94" x2="404.45" y2="530.69" stroke="#111" stroke-width="0.9"/>
<line x1="402.85" y1="530.69" x2="406.05" y2="530.69" stroke="#111" stroke-width="0.9"/>
<rect x="401.55" y="532.94" width="5.8" height="5.06" fill="#1f4588"/>
<line x1="412.80" y1="532.10" x2="412.80" y2="531.26" stroke="#111" stroke-width="0.9"/>
<line x1="411.20" y1="531.26" x2="414.40" y2="531.26" stroke="#111" stroke-width="0.9"/>
<rect x="409.90" y="532.10" width="5.8" height="5.90" fill="#6cb33f"/>
<text transform="translate(408.40 548.90) rotate(-45) scale(0.95 1)" font-size="7.4" font-weight="normal" text-anchor="end" fill="#0c0c0c"  stroke="#0c0c0c" stroke-width="0.24">pDCs</text>
<line x1="435.30" y1="538" x2="435.30" y2="541.4" stroke="#000" stroke-width="0.9"/>
<line x1="427.10" y1="534.63" x2="427.10" y2="533.22" stroke="#111" stroke-width="0.9"/>
<line x1="425.50" y1="533.22" x2="428.70" y2="533.22" stroke="#111" stroke-width="0.9"/>
<rect x="424.20" y="534.63" width="5.8" height="3.37" fill="#b5082e"/>
<line x1="435.45" y1="536.31" x2="435.45" y2="535.47" stroke="#111" stroke-width="0.9"/>
<line x1="433.85" y1="535.47" x2="437.05" y2="535.47" stroke="#111" stroke-width="0.9"/>
<rect x="432.55" y="536.31" width="5.8" height="1.69" fill="#1f4588"/>
<line x1="443.80" y1="537.44" x2="443.80" y2="537.16" stroke="#111" stroke-width="0.9"/>
<line x1="442.20" y1="537.16" x2="445.40" y2="537.16" stroke="#111" stroke-width="0.9"/>
<rect x="440.90" y="537.44" width="5.8" height="0.56" fill="#6cb33f"/>
<line x1="466.30" y1="538" x2="466.30" y2="541.4" stroke="#000" stroke-width="0.9"/>
<line x1="458.10" y1="512.15" x2="458.10" y2="508.21" stroke="#111" stroke-width="0.9"/>
<line x1="456.50" y1="508.21" x2="459.70" y2="508.21" stroke="#111" stroke-width="0.9"/>
<rect x="455.20" y="512.15" width="5.8" height="25.85" fill="#b5082e"/>
<line x1="466.45" y1="516.64" x2="466.45" y2="513.27" stroke="#111" stroke-width="0.9"/>
<line x1="464.85" y1="513.27" x2="468.05" y2="513.27" stroke="#111" stroke-width="0.9"/>
<rect x="463.55" y="516.64" width="5.8" height="21.36" fill="#1f4588"/>
<line x1="474.80" y1="523.95" x2="474.80" y2="522.26" stroke="#111" stroke-width="0.9"/>
<line x1="473.20" y1="522.26" x2="476.40" y2="522.26" stroke="#111" stroke-width="0.9"/>
<rect x="471.90" y="523.95" width="5.8" height="14.05" fill="#6cb33f"/>
<line x1="497.30" y1="538" x2="497.30" y2="541.4" stroke="#000" stroke-width="0.9"/>
<line x1="489.10" y1="498.10" x2="489.10" y2="492.48" stroke="#111" stroke-width="0.9"/>
<line x1="487.50" y1="492.48" x2="490.70" y2="492.48" stroke="#111" stroke-width="0.9"/>
<rect x="486.20" y="498.10" width="5.8" height="39.90" fill="#b5082e"/>
<line x1="497.45" y1="499.78" x2="497.45" y2="491.35" stroke="#111" stroke-width="0.9"/>
<line x1="495.85" y1="491.35" x2="499.05" y2="491.35" stroke="#111" stroke-width="0.9"/>
<rect x="494.55" y="499.78" width="5.8" height="38.22" fill="#1f4588"/>
<line x1="505.80" y1="439.79" x2="505.80" y2="435.02" stroke="#111" stroke-width="0.9"/>
<line x1="504.20" y1="435.02" x2="507.40" y2="435.02" stroke="#111" stroke-width="0.9"/>
<rect x="502.90" y="453.80" width="5.8" height="84.20" fill="#6cb33f"/>
<rect x="502.90" y="439.79" width="5.8" height="7.21" fill="#6cb33f"/>
<text transform="translate(501.40 548.90) rotate(-45) scale(0.95 1)" font-size="7.4" font-weight="normal" text-anchor="end" fill="#0c0c0c"  stroke="#0c0c0c" stroke-width="0.24">Neutrophils</text>
<text transform="translate(438.20 548.90) rotate(-45) scale(0.95 1)" font-size="7.4" font-weight="normal" text-anchor="end" fill="#0c0c0c"  stroke="#0c0c0c" stroke-width="0.24">Inflammatory</text>
<text transform="translate(445.00 554.30) rotate(-45) scale(0.95 1)" font-size="7.4" font-weight="normal" text-anchor="end" fill="#0c0c0c"  stroke="#0c0c0c" stroke-width="0.24">Monocytes</text>
<text transform="translate(469.20 548.90) rotate(-45) scale(0.95 1)" font-size="7.4" font-weight="normal" text-anchor="end" fill="#0c0c0c"  stroke="#0c0c0c" stroke-width="0.24">Resident</text>
<text transform="translate(476.00 554.30) rotate(-45) scale(0.95 1)" font-size="7.4" font-weight="normal" text-anchor="end" fill="#0c0c0c"  stroke="#0c0c0c" stroke-width="0.24">Monocytes</text>
<path d="M343.12 531.80 V529.40 H350.12 V531.80" fill="none" stroke="#111" stroke-width="1.2"/>
<text transform="translate(346.62 530.00)" font-size="7.6" font-weight="normal" text-anchor="middle" fill="#0c0c0c"  stroke="#0c0c0c" stroke-width="0.24">*</text>
<path d="M374.12 521.00 V518.60 H381.12 V521.00" fill="none" stroke="#111" stroke-width="1.2"/>
<text transform="translate(377.62 519.20)" font-size="7.6" font-weight="normal" text-anchor="middle" fill="#0c0c0c"  stroke="#0c0c0c" stroke-width="0.24">*</text>
<path d="M467.12 511.00 V508.60 H474.12 V511.00" fill="none" stroke="#111" stroke-width="1.2"/>
<text transform="translate(470.62 509.20)" font-size="7.6" font-weight="normal" text-anchor="middle" fill="#0c0c0c"  stroke="#0c0c0c" stroke-width="0.24">*</text>
<path d="M498.12 432.60 V430.20 H505.12 V432.60" fill="none" stroke="#111" stroke-width="1.2"/>
<text transform="translate(501.62 430.80)" font-size="7.6" font-weight="normal" text-anchor="middle" fill="#0c0c0c"  stroke="#0c0c0c" stroke-width="0.24">*</text>
<text transform="translate(7.20 606.60) scale(1.22 1)" font-size="12.6" font-weight="bold" text-anchor="start" fill="#000" stroke="#000" stroke-width="0.3">D</text>
<path d="M59.6 689 L60.6 680 L61.6 671 L63.0 669.6 L64.4 668 L65.6 660 L66.8 654.4 L68.2 658 L69.6 662 L70.8 658 L72.4 656 L73.6 660 L74.6 670 L75.8 676.4 L77.6 674.6 L79.6 677 L82 678.4 L83.6 676 L85 673.6 L86.6 677.4 L88.4 678.6 L90.6 676.4 L92.6 677 L94.6 676 L96.2 671.4 L97.6 669.4 L99 674 L100.6 680 L102.4 685 L104.4 688.6" fill="none" stroke="#7fb85a" stroke-width="0.8" stroke-linejoin="round"/>
<path d="M62.4 689.4 C64.2 689 65.2 684 66.0 672 C66.8 656 67.4 640 68.1 635.6 C68.9 640 69.5 656 70.3 672 C71.1 684 72.1 689 74.0 689.4 Z" fill="#cd8b82" stroke="#b5183a" stroke-width="0.6" stroke-linejoin="round"/>
<path d="M62.6 689 C64.6 688 65.6 680 66.4 668 C67.4 648 68 636 68.8 633.2 C69.6 636 70.2 648 71 664 C71.8 678 72.8 684 75 685.6 C80 686.6 90 686.8 100 687.4 L104 688.6" fill="none" stroke="#3b4ba0" stroke-width="0.8" stroke-dasharray="0.9 1.1"/>
<path d="M39.00 624.20 H106.40 V689.50" fill="none" stroke="#000" stroke-width="1.5"/>
<path d="M39.00 624.20 V689.50 H106.40" fill="none" stroke="#000" stroke-width="1.0"/>
<line x1="37.90" y1="627.80" x2="37.90" y2="689.50" stroke="#000" stroke-width="1.4" stroke-dasharray="0.6 1.868"/>
<line x1="39.00" y1="690.60" x2="104.40" y2="690.60" stroke="#000" stroke-width="1.4" stroke-dasharray="0.6 2.125"/>
<line x1="36.40" y1="689.40" x2="39.00" y2="689.40" stroke="#000" stroke-width="0.9"/>
<text transform="translate(32.40 692.20) scale(0.84 1)" font-size="8" font-weight="normal" text-anchor="end" fill="#0c0c0c"  stroke="#0c0c0c" stroke-width="0.24">0</text>
<line x1="36.40" y1="676.90" x2="39.00" y2="676.90" stroke="#000" stroke-width="0.9"/>
<text transform="translate(32.40 679.70) scale(0.84 1)" font-size="8" font-weight="normal" text-anchor="end" fill="#0c0c0c"  stroke="#0c0c0c" stroke-width="0.24">20</text>
<line x1="36.40" y1="664.40" x2="39.00" y2="664.40" stroke="#000" stroke-width="0.9"/>
<text transform="translate(32.40 667.20) scale(0.84 1)" font-size="8" font-weight="normal" text-anchor="end" fill="#0c0c0c"  stroke="#0c0c0c" stroke-width="0.24">40</text>
<line x1="36.40" y1="651.90" x2="39.00" y2="651.90" stroke="#000" stroke-width="0.9"/>
<text transform="translate(32.40 654.70) scale(0.84 1)" font-size="8" font-weight="normal" text-anchor="end" fill="#0c0c0c"  stroke="#0c0c0c" stroke-width="0.24">60</text>
<line x1="36.40" y1="639.40" x2="39.00" y2="639.40" stroke="#000" stroke-width="0.9"/>
<text transform="translate(32.40 642.20) scale(0.84 1)" font-size="8" font-weight="normal" text-anchor="end" fill="#0c0c0c"  stroke="#0c0c0c" stroke-width="0.24">80</text>
<line x1="36.40" y1="626.90" x2="39.00" y2="626.90" stroke="#000" stroke-width="0.9"/>
<text transform="translate(32.40 629.70) scale(0.84 1)" font-size="8" font-weight="normal" text-anchor="end" fill="#0c0c0c"  stroke="#0c0c0c" stroke-width="0.24">100</text>
<text transform="translate(15.60 656.60) rotate(-90) scale(0.77 1)" font-size="9.5" font-weight="normal" text-anchor="middle" fill="#0c0c0c"  stroke="#0c0c0c" stroke-width="0.24">% of Max</text>
<text transform="translate(43.10 702.70) scale(0.85 1)" font-size="7.7" font-weight="normal" text-anchor="middle" fill="#0c0c0c"  stroke="#0c0c0c" stroke-width="0.24">0</text>
<text transform="translate(64.20 702.70) scale(0.78 1)" font-size="7.7" font-weight="normal" text-anchor="start" fill="#111" stroke="#111" stroke-width="0.1">10<tspan font-size="4.4" dy="-3">3</tspan></text>
<text transform="translate(79.60 702.70) scale(0.78 1)" font-size="7.7" font-weight="normal" text-anchor="start" fill="#111" stroke="#111" stroke-width="0.1">10<tspan font-size="4.4" dy="-3">4</tspan></text>
<text transform="translate(94.60 702.70) scale(0.78 1)" font-size="7.7" font-weight="normal" text-anchor="start" fill="#111" stroke="#111" stroke-width="0.1">10<tspan font-size="4.4" dy="-3">5</tspan></text>
<text transform="translate(73.00 716.00) scale(0.8 1)" font-size="9.2" font-weight="normal" text-anchor="middle" fill="#0c0c0c"  stroke="#0c0c0c" stroke-width="0.24">DiO</text>
<text transform="translate(7.00 618.50) scale(1.07 1)" font-size="9" font-weight="normal" text-anchor="start" fill="#0c0c0c"  stroke="#0c0c0c" stroke-width="0.24">Inflammatory Monocytes, 16 hr</text>
<path d="M220.6 689.2 L221.8 684 L223.2 672 L224.6 655 L226 638 L227.4 629 L228.4 628.2 L229.6 634 L230.8 648 L232 663 L233.4 673 L235 677.6 L238 679.4 L241 679.6 L243.4 679.4 L246 680.8 L250 683.2 L254 685.6 L258 687.6 L262.6 689" fill="none" stroke="#7fb85a" stroke-width="0.8" stroke-linejoin="round"/>
<path d="M222.4 689.4 C224.4 689 225.6 682 226.4 668 C227.2 650 227.8 634 228.6 630.2 C229.4 634 230.2 650 231.0 668 C231.8 682 233 689 235.0 689.4 Z" fill="#cd8b82" stroke="#b5183a" stroke-width="0.6" stroke-linejoin="round"/>
<path d="M222.8 689 C224.8 688 225.8 680 226.6 666 C227.4 648 228.2 634 229.0 629.6 C229.8 634 230.6 650 231.6 668 C232.6 680 234 684 236.4 685 C242 686.4 250 687.4 256 688.4" fill="none" stroke="#3b4ba0" stroke-width="0.8" stroke-dasharray="0.9 1.1"/>
<path d="M199.00 624.20 H264.90 V689.50" fill="none" stroke="#000" stroke-width="1.5"/>
<path d="M199.00 624.20 V689.50 H264.90" fill="none" stroke="#000" stroke-width="1.0"/>
<line x1="197.90" y1="627.80" x2="197.90" y2="689.50" stroke="#000" stroke-width="1.4" stroke-dasharray="0.6 1.868"/>
<line x1="199.00" y1="690.60" x2="262.90" y2="690.60" stroke="#000" stroke-width="1.4" stroke-dasharray="0.6 2.062"/>
<line x1="196.40" y1="689.40" x2="199.00" y2="689.40" stroke="#000" stroke-width="0.9"/>
<text transform="translate(192.40 692.20) scale(0.84 1)" font-size="8" font-weight="normal" text-anchor="end" fill="#0c0c0c"  stroke="#0c0c0c" stroke-width="0.24">0</text>
<line x1="196.40" y1="676.90" x2="199.00" y2="676.90" stroke="#000" stroke-width="0.9"/>
<text transform="translate(192.40 679.70) scale(0.84 1)" font-size="8" font-weight="normal" text-anchor="end" fill="#0c0c0c"  stroke="#0c0c0c" stroke-width="0.24">20</text>
<line x1="196.40" y1="664.40" x2="199.00" y2="664.40" stroke="#000" stroke-width="0.9"/>
<text transform="translate(192.40 667.20) scale(0.84 1)" font-size="8" font-weight="normal" text-anchor="end" fill="#0c0c0c"  stroke="#0c0c0c" stroke-width="0.24">40</text>
<line x1="196.40" y1="651.90" x2="199.00" y2="651.90" stroke="#000" stroke-width="0.9"/>
<text transform="translate(192.40 654.70) scale(0.84 1)" font-size="8" font-weight="normal" text-anchor="end" fill="#0c0c0c"  stroke="#0c0c0c" stroke-width="0.24">60</text>
<line x1="196.40" y1="639.40" x2="199.00" y2="639.40" stroke="#000" stroke-width="0.9"/>
<text transform="translate(192.40 642.20) scale(0.84 1)" font-size="8" font-weight="normal" text-anchor="end" fill="#0c0c0c"  stroke="#0c0c0c" stroke-width="0.24">80</text>
<line x1="196.40" y1="626.90" x2="199.00" y2="626.90" stroke="#000" stroke-width="0.9"/>
<text transform="translate(192.40 629.70) scale(0.84 1)" font-size="8" font-weight="normal" text-anchor="end" fill="#0c0c0c"  stroke="#0c0c0c" stroke-width="0.24">100</text>
<text transform="translate(175.60 656.60) rotate(-90) scale(0.77 1)" font-size="9.5" font-weight="normal" text-anchor="middle" fill="#0c0c0c"  stroke="#0c0c0c" stroke-width="0.24">% of Max</text>
<text transform="translate(203.10 702.70) scale(0.85 1)" font-size="7.7" font-weight="normal" text-anchor="middle" fill="#0c0c0c"  stroke="#0c0c0c" stroke-width="0.24">0</text>
<text transform="translate(223.80 702.70) scale(0.78 1)" font-size="7.7" font-weight="normal" text-anchor="start" fill="#111" stroke="#111" stroke-width="0.1">10<tspan font-size="4.4" dy="-3">3</tspan></text>
<text transform="translate(238.70 702.70) scale(0.78 1)" font-size="7.7" font-weight="normal" text-anchor="start" fill="#111" stroke="#111" stroke-width="0.1">10<tspan font-size="4.4" dy="-3">4</tspan></text>
<text transform="translate(254.00 702.70) scale(0.78 1)" font-size="7.7" font-weight="normal" text-anchor="start" fill="#111" stroke="#111" stroke-width="0.1">10<tspan font-size="4.4" dy="-3">5</tspan></text>
<text transform="translate(231.80 716.00) scale(0.8 1)" font-size="9.2" font-weight="normal" text-anchor="middle" fill="#0c0c0c"  stroke="#0c0c0c" stroke-width="0.24">DiO</text>
<text transform="translate(193.80 618.50) scale(1.07 1)" font-size="9" font-weight="normal" text-anchor="start" fill="#0c0c0c"  stroke="#0c0c0c" stroke-width="0.24">Neutrophils, 16 hr</text>
<line x1="268.8" y1="646.3" x2="277.0" y2="646.3" stroke="#b5082e" stroke-width="1.4"/>
<line x1="268.8" y1="656.8" x2="277.0" y2="656.8" stroke="#3b4ba0" stroke-width="0.8" stroke-dasharray="0.9 1.1"/>
<line x1="268.8" y1="667.4" x2="277.0" y2="667.4" stroke="#7fb85a" stroke-width="0.8"/>
<text transform="translate(280.60 648.90) scale(0.95 1)" font-size="7.3" font-weight="normal" text-anchor="start" fill="#0c0c0c"  stroke="#0c0c0c" stroke-width="0.24">PBS</text>
<text transform="translate(280.60 659.45) scale(0.95 1)" font-size="7.3" font-weight="normal" text-anchor="start" fill="#0c0c0c"  stroke="#0c0c0c" stroke-width="0.24">KELIg</text>
<text transform="translate(280.60 670.00) scale(0.95 1)" font-size="7.3" font-weight="normal" text-anchor="start" fill="#0c0c0c"  stroke="#0c0c0c" stroke-width="0.24">KELIg Poly(I:C)</text>
<path d="M0 0H520V724H0Z M1.0 0.9V722.7H518.8V0.9Z" fill="#000" fill-rule="evenodd"/>
</svg>
</body></html>
